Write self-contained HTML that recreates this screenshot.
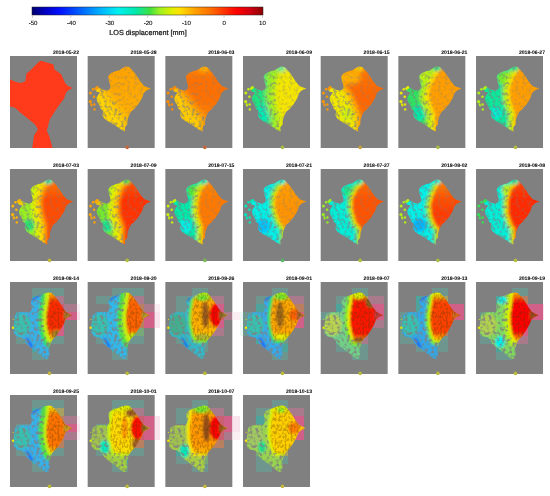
<!DOCTYPE html><html><head><meta charset="utf-8"><style>html,body{margin:0;padding:0;background:#fff;}svg{display:block;}#w{width:550px;height:496px;}text{font-family:"Liberation Sans",sans-serif;}.t{filter:url(#nop);text-rendering:geometricPrecision;}</style></head><body>
<div id="w"><svg width="550" height="496" viewBox="0 0 550 496">
<defs>
<linearGradient id="cb" x1="0" y1="0" x2="1" y2="0"><stop offset="0.000" stop-color="#00006e"/><stop offset="0.056" stop-color="#0000c0"/><stop offset="0.121" stop-color="#0010ff"/><stop offset="0.208" stop-color="#0060ff"/><stop offset="0.294" stop-color="#00b0ff"/><stop offset="0.372" stop-color="#00f0f0"/><stop offset="0.446" stop-color="#00e8b0"/><stop offset="0.511" stop-color="#40e040"/><stop offset="0.554" stop-color="#a0f020"/><stop offset="0.606" stop-color="#e0f000"/><stop offset="0.641" stop-color="#ffe000"/><stop offset="0.706" stop-color="#ffa000"/><stop offset="0.771" stop-color="#ff7000"/><stop offset="0.835" stop-color="#ff3000"/><stop offset="0.887" stop-color="#ff0000"/><stop offset="0.944" stop-color="#d00010"/><stop offset="1.000" stop-color="#8a0000"/></linearGradient>
<clipPath id="ic"><path d="M38.2,10.4 L41.6,10.9 L44.9,14.4 L48.2,18.5 L52.3,25.0 L55.9,29.4 L58.6,31.0 L63.3,32.4 L58.6,34.5 L56.0,37.3 L54.2,42.6 L50.5,48.2 L46.8,52.8 L43.2,55.8 L41.4,59.3 L39.8,63.9 L39.6,68.6 L37.2,71.6 L37.6,75.4 L34.2,74.0 L29.9,71.0 L25.3,68.0 L20.4,65.2 L16.6,62.4 L14.8,59.3 L15.6,55.0 L12.8,52.4 L11.6,48.4 L9.6,45.6 L8.8,41.7 L10.8,38.6 L12.4,36.6 L9.0,35.8 L7.2,33.6 L11.2,31.4 L15.1,33.8 L18.8,34.6 L22.0,33.6 L22.8,29.6 L21.0,24.1 L20.6,20.2 L23.0,17.2 L27.8,15.2 L31.6,14.2 L35.2,12.0Z"/></clipPath>
<clipPath id="ic2"><path d="M38.4,10.4 L41.8,11.0 L45.0,14.4 L48.5,18.8 L52.5,25.5 L55.5,29.5 L58.5,31.2 L62.5,33.2 L58.5,35.0 L55.5,37.6 L53.2,43.0 L50.0,48.5 L46.5,53.5 L42.5,57.5 L40.5,61.5 L39.0,66.5 L39.5,72.0 L38.5,76.5 L35.5,77.0 L30.0,72.5 L25.0,68.5 L20.0,65.0 L16.2,61.5 L15.0,58.5 L12.0,55.5 L7.0,54.5 L4.0,52.0 L3.5,45.0 L4.5,38.0 L5.0,33.0 L9.0,30.5 L15.0,30.0 L20.0,30.5 L22.0,27.0 L21.0,22.0 L21.0,17.5 L24.5,15.0 L29.0,13.5 L34.0,11.4Z"/></clipPath>
<filter id="b1_0" x="-10%" y="-10%" width="120%" height="120%"><feGaussianBlur stdDeviation="1.0"/></filter>
<filter id="b1_4" x="-10%" y="-10%" width="120%" height="120%"><feGaussianBlur stdDeviation="1.4"/></filter>
<filter id="b1_6" x="-10%" y="-10%" width="120%" height="120%"><feGaussianBlur stdDeviation="1.6"/></filter>
<filter id="b1_7" x="-10%" y="-10%" width="120%" height="120%"><feGaussianBlur stdDeviation="1.7"/></filter>
<filter id="b1_8" x="-10%" y="-10%" width="120%" height="120%"><feGaussianBlur stdDeviation="1.8"/></filter>
<filter id="b2_0" x="-10%" y="-10%" width="120%" height="120%"><feGaussianBlur stdDeviation="2.0"/></filter>
<filter id="b2_2" x="-10%" y="-10%" width="120%" height="120%"><feGaussianBlur stdDeviation="2.2"/></filter>
<filter id="b2_5" x="-10%" y="-10%" width="120%" height="120%"><feGaussianBlur stdDeviation="2.5"/></filter>
<filter id="soft" x="-5%" y="-5%" width="110%" height="110%"><feGaussianBlur stdDeviation="0.35"/></filter>
<filter id="speck" x="-10%" y="-10%" width="120%" height="120%" color-interpolation-filters="sRGB"><feTurbulence type="fractalNoise" baseFrequency="0.3" numOctaves="2" seed="5"/><feColorMatrix type="matrix" values="0 0 0 0 0.502  0 0 0 0 0.502  0 0 0 0 0.502  4 0 0 0 -1.9"/><feComposite in2="SourceGraphic" operator="in"/></filter>
<filter id="speck2" x="-10%" y="-10%" width="120%" height="120%" color-interpolation-filters="sRGB"><feTurbulence type="fractalNoise" baseFrequency="0.5 0.3" numOctaves="2" seed="11"/><feColorMatrix type="matrix" values="0 0 0 0 0.3  0 0 0 0 0.22  0 0 0 0 0.05  4 0 0 0 -1.7"/><feComposite in2="SourceGraphic" operator="in"/></filter>
<filter id="nop" x="-5%" y="-20%" width="110%" height="140%"><feOffset dx="0" dy="0"/></filter>
<g id="holes"><circle cx="19.7" cy="34.9" r="0.74"/><circle cx="25.7" cy="29.7" r="0.65"/><circle cx="11.3" cy="32.2" r="0.64"/><circle cx="16.4" cy="56.9" r="0.88"/><circle cx="28.0" cy="46.2" r="0.89"/><circle cx="18.6" cy="34.6" r="0.50"/><circle cx="30.1" cy="45.1" r="0.70"/><circle cx="15.8" cy="59.3" r="0.64"/><circle cx="19.4" cy="54.9" r="0.65"/><circle cx="32.1" cy="39.2" r="0.71"/><circle cx="26.3" cy="68.3" r="0.78"/><circle cx="12.9" cy="47.2" r="0.79"/><circle cx="14.0" cy="50.5" r="0.47"/><circle cx="31.1" cy="63.2" r="0.71"/><circle cx="31.9" cy="55.3" r="0.71"/><circle cx="24.1" cy="66.6" r="0.88"/><circle cx="24.6" cy="58.6" r="0.48"/><circle cx="32.1" cy="57.8" r="0.90"/><circle cx="21.7" cy="58.8" r="0.46"/><circle cx="24.2" cy="35.7" r="0.50"/><circle cx="13.3" cy="39.4" r="0.63"/><circle cx="23.8" cy="53.3" r="0.85"/><circle cx="36.0" cy="67.7" r="0.58"/><circle cx="22.7" cy="44.5" r="0.85"/><circle cx="14.8" cy="38.7" r="0.56"/><circle cx="25.0" cy="55.1" r="0.57"/><circle cx="21.2" cy="54.1" r="0.88"/><circle cx="31.8" cy="51.7" r="0.73"/><circle cx="31.3" cy="30.5" r="0.85"/><circle cx="34.7" cy="68.2" r="0.81"/><circle cx="21.9" cy="46.4" r="0.50"/><circle cx="29.9" cy="30.9" r="0.48"/><circle cx="15.9" cy="35.5" r="0.60"/><circle cx="37.9" cy="56.2" r="0.52"/><circle cx="17.3" cy="44.0" r="0.61"/><circle cx="25.0" cy="32.0" r="0.50"/><circle cx="20.3" cy="40.2" r="0.82"/><circle cx="13.8" cy="53.0" r="0.46"/></g>
<linearGradient id="e1" gradientUnits="userSpaceOnUse" x1="0" y1="0" x2="0" y2="92"><stop offset="0.109" stop-color="#ffa300"/><stop offset="0.652" stop-color="#ffae00"/></linearGradient>
<linearGradient id="e2" gradientUnits="userSpaceOnUse" x1="0" y1="0" x2="0" y2="92"><stop offset="0.109" stop-color="#ff8600"/><stop offset="0.272" stop-color="#ff6e00"/><stop offset="0.489" stop-color="#ff7100"/><stop offset="0.652" stop-color="#ff8000"/></linearGradient>
<linearGradient id="e3" gradientUnits="userSpaceOnUse" x1="0" y1="0" x2="0" y2="92"><stop offset="0.109" stop-color="#f1e700"/><stop offset="0.652" stop-color="#f8e400"/></linearGradient>
<linearGradient id="e4" gradientUnits="userSpaceOnUse" x1="0" y1="0" x2="0" y2="92"><stop offset="0.109" stop-color="#ff7900"/><stop offset="0.435" stop-color="#ff6400"/><stop offset="0.652" stop-color="#ff6c00"/></linearGradient>
<linearGradient id="e5" gradientUnits="userSpaceOnUse" x1="0" y1="0" x2="0" y2="92"><stop offset="0.109" stop-color="#ff9e00"/><stop offset="0.652" stop-color="#ff9e00"/></linearGradient>
<linearGradient id="e6" gradientUnits="userSpaceOnUse" x1="0" y1="0" x2="0" y2="92"><stop offset="0.109" stop-color="#ff9e00"/><stop offset="0.652" stop-color="#ff9e00"/></linearGradient>
<linearGradient id="e7" gradientUnits="userSpaceOnUse" x1="0" y1="0" x2="0" y2="92"><stop offset="0.152" stop-color="#ff7300"/><stop offset="0.326" stop-color="#ff4b00"/><stop offset="0.652" stop-color="#ff4b00"/></linearGradient>
<linearGradient id="e8" gradientUnits="userSpaceOnUse" x1="0" y1="0" x2="0" y2="92"><stop offset="0.152" stop-color="#ff5300"/><stop offset="0.326" stop-color="#ff3200"/><stop offset="0.652" stop-color="#ff3200"/></linearGradient>
<linearGradient id="e9" gradientUnits="userSpaceOnUse" x1="0" y1="0" x2="0" y2="92"><stop offset="0.152" stop-color="#ff8600"/><stop offset="0.326" stop-color="#ff7900"/><stop offset="0.652" stop-color="#ff7900"/></linearGradient>
<linearGradient id="e10" gradientUnits="userSpaceOnUse" x1="0" y1="0" x2="0" y2="92"><stop offset="0.152" stop-color="#ff9e00"/><stop offset="0.435" stop-color="#ff9200"/><stop offset="0.652" stop-color="#ff9800"/></linearGradient>
<linearGradient id="e11" gradientUnits="userSpaceOnUse" x1="0" y1="0" x2="0" y2="92"><stop offset="0.152" stop-color="#ff6c00"/><stop offset="0.326" stop-color="#ff5300"/><stop offset="0.652" stop-color="#ff5300"/></linearGradient>
<linearGradient id="e12" gradientUnits="userSpaceOnUse" x1="0" y1="0" x2="0" y2="92"><stop offset="0.152" stop-color="#ff8000"/><stop offset="0.304" stop-color="#ff5300"/><stop offset="0.489" stop-color="#ff3a00"/><stop offset="0.652" stop-color="#ff4200"/></linearGradient>
<linearGradient id="e13" gradientUnits="userSpaceOnUse" x1="0" y1="0" x2="0" y2="92"><stop offset="0.152" stop-color="#ff4200"/><stop offset="0.326" stop-color="#ff2a00"/><stop offset="0.652" stop-color="#ff2a00"/></linearGradient>
<linearGradient id="e14" gradientUnits="userSpaceOnUse" x1="0" y1="0" x2="0" y2="92"><stop offset="0.130" stop-color="#ffb600"/><stop offset="0.217" stop-color="#ff2a00"/><stop offset="0.500" stop-color="#ff2a00"/><stop offset="0.609" stop-color="#ffb600"/></linearGradient>
<linearGradient id="e15" gradientUnits="userSpaceOnUse" x1="0" y1="0" x2="0" y2="92"><stop offset="0.130" stop-color="#ffa600"/><stop offset="0.217" stop-color="#ff6400"/><stop offset="0.522" stop-color="#ff6400"/><stop offset="0.630" stop-color="#f8e400"/></linearGradient>
<linearGradient id="e16" gradientUnits="userSpaceOnUse" x1="0" y1="0" x2="0" y2="92"><stop offset="0.130" stop-color="#b0f018"/><stop offset="0.217" stop-color="#ffa600"/><stop offset="0.543" stop-color="#ffb600"/><stop offset="0.630" stop-color="#d9f004"/></linearGradient>
<linearGradient id="e17" gradientUnits="userSpaceOnUse" x1="0" y1="0" x2="0" y2="92"><stop offset="0.130" stop-color="#b0f018"/><stop offset="0.217" stop-color="#ffa600"/><stop offset="0.543" stop-color="#ffa600"/><stop offset="0.630" stop-color="#d9f004"/></linearGradient>
<linearGradient id="e18" gradientUnits="userSpaceOnUse" x1="0" y1="0" x2="0" y2="92"><stop offset="0.130" stop-color="#d9f004"/><stop offset="0.217" stop-color="#ff1300"/><stop offset="0.565" stop-color="#ff1300"/><stop offset="0.630" stop-color="#ffa600"/></linearGradient>
<linearGradient id="e19" gradientUnits="userSpaceOnUse" x1="0" y1="0" x2="0" y2="92"><stop offset="0.130" stop-color="#e9eb00"/><stop offset="0.217" stop-color="#ff4200"/><stop offset="0.543" stop-color="#ff4200"/><stop offset="0.630" stop-color="#ffc700"/></linearGradient>
<linearGradient id="e20" gradientUnits="userSpaceOnUse" x1="0" y1="0" x2="0" y2="92"><stop offset="0.130" stop-color="#ffa600"/><stop offset="0.217" stop-color="#ff0300"/><stop offset="0.543" stop-color="#ff0300"/><stop offset="0.630" stop-color="#ffa600"/></linearGradient>
<linearGradient id="e21" gradientUnits="userSpaceOnUse" x1="0" y1="0" x2="0" y2="92"><stop offset="0.130" stop-color="#f8e400"/><stop offset="0.217" stop-color="#ff7300"/><stop offset="0.543" stop-color="#ff7300"/><stop offset="0.630" stop-color="#ffc700"/></linearGradient>
<linearGradient id="e22" gradientUnits="userSpaceOnUse" x1="0" y1="0" x2="0" y2="92"><stop offset="0.130" stop-color="#d9f004"/><stop offset="0.217" stop-color="#ffdf00"/><stop offset="0.543" stop-color="#ffd700"/><stop offset="0.630" stop-color="#f8e400"/></linearGradient>
<linearGradient id="e23" gradientUnits="userSpaceOnUse" x1="0" y1="0" x2="0" y2="92"><stop offset="0.130" stop-color="#97ef23"/><stop offset="0.217" stop-color="#ff9800"/><stop offset="0.543" stop-color="#ff9800"/><stop offset="0.630" stop-color="#ffb600"/></linearGradient>
<linearGradient id="e24" gradientUnits="userSpaceOnUse" x1="0" y1="0" x2="0" y2="92"><stop offset="0.130" stop-color="#e9eb00"/><stop offset="0.217" stop-color="#ffcf00"/><stop offset="0.543" stop-color="#ffcf00"/><stop offset="0.630" stop-color="#ffd700"/></linearGradient>
</defs>
<rect x="0" y="0" width="550" height="496" fill="#fff"/>
<rect x="32" y="7" width="231" height="8" fill="url(#cb)" stroke="#222" stroke-width="0.5"/>
<line x1="32.5" y1="15.5" x2="32.5" y2="17.8" stroke="#aaa" stroke-width="0.6"/>
<text class="t" x="33.1" y="24.9" font-size="6.1" text-anchor="middle" fill="#111" stroke="#111" stroke-width="0.12">-50</text>
<line x1="70.8" y1="15.5" x2="70.8" y2="17.8" stroke="#aaa" stroke-width="0.6"/>
<text class="t" x="71.4" y="24.9" font-size="6.1" text-anchor="middle" fill="#111" stroke="#111" stroke-width="0.12">-40</text>
<line x1="109.2" y1="15.5" x2="109.2" y2="17.8" stroke="#aaa" stroke-width="0.6"/>
<text class="t" x="109.8" y="24.9" font-size="6.1" text-anchor="middle" fill="#111" stroke="#111" stroke-width="0.12">-30</text>
<line x1="147.5" y1="15.5" x2="147.5" y2="17.8" stroke="#aaa" stroke-width="0.6"/>
<text class="t" x="148.1" y="24.9" font-size="6.1" text-anchor="middle" fill="#111" stroke="#111" stroke-width="0.12">-20</text>
<line x1="185.8" y1="15.5" x2="185.8" y2="17.8" stroke="#aaa" stroke-width="0.6"/>
<text class="t" x="186.4" y="24.9" font-size="6.1" text-anchor="middle" fill="#111" stroke="#111" stroke-width="0.12">-10</text>
<line x1="224.1" y1="15.5" x2="224.1" y2="17.8" stroke="#aaa" stroke-width="0.6"/>
<text class="t" x="224.1" y="24.9" font-size="6.1" text-anchor="middle" fill="#111" stroke="#111" stroke-width="0.12">0</text>
<line x1="262.5" y1="15.5" x2="262.5" y2="17.8" stroke="#aaa" stroke-width="0.6"/>
<text class="t" x="262.5" y="24.9" font-size="6.1" text-anchor="middle" fill="#111" stroke="#111" stroke-width="0.12">10</text>
<text class="t" x="148" y="34.5" font-size="7.25" text-anchor="middle" fill="#111" stroke="#111" stroke-width="0.22">LOS displacement [mm]</text>
<g transform="translate(10.00,56)">
<rect width="67" height="92" fill="#808080"/>
<path d="M30.9,4.8 L43.5,8.6 L44.5,13.5 L51.2,18.3 L55.1,27.0 L58.0,30.0 L62.8,31.9 L59.0,33.8 L56.0,36.7 L54.1,42.5 L48.3,50.3 L44.5,56.0 L39.6,63.8 L37.7,71.5 L36.7,74.5 L39.6,81.2 L42.5,92.0 L22.2,92.0 L24.1,79.3 L28.0,73.5 L25.1,68.6 L19.3,63.8 L9.6,56.0 L5.8,52.2 L0.0,50.3 L0.0,23.2 L5.8,26.1 L11.6,27.1 L15.4,25.1 L16.4,17.4 L20.3,14.5 L25.1,9.6 L29.0,5.8Z" fill="#ff3a1c" filter="url(#soft)"/>
<text class="t" x="69.0" y="-2.3" font-size="5.1" font-weight="bold" text-anchor="end" fill="#111" stroke="#111" stroke-width="0.08">2018-05-22</text>
</g>
<g transform="translate(87.67,56)">
<rect width="67" height="92" fill="#808080"/>
<g clip-path="url(#ic)"><g filter="url(#b2_5)">
<rect x="-5" y="-5" width="77" height="102" fill="#ffd400"/>
<ellipse cx="40" cy="12" rx="4" ry="3" fill="#ffb600"/>
<path d="M14.0,-5.0 L14.0,28.0 L22.0,38.0 L32.0,50.0 L42.0,64.0 L42.0,97.0" fill="none" stroke="#ffbf00" stroke-width="12.0" stroke-linejoin="round"/>
<path d="M14.0,-5.0 L14.0,28.0 L22.0,38.0 L32.0,50.0 L42.0,64.0 L42.0,97.0 L75.0,97.0 L75.0,-5.0Z" fill="url(#e1)"/>
</g>
<path d="M-5.0,-5.0 L12.5,-5.0 L12.5,28.0 L20.5,38.0 L30.5,50.0 L40.5,64.0 L40.5,97.0 L-5.0,97.0Z" fill="#000" filter="url(#speck)" opacity="0.6"/>
<path d="M14.0,-5.0 L14.0,28.0 L22.0,38.0 L32.0,50.0 L42.0,64.0 L42.0,97.0 L75.0,97.0 L75.0,-5.0Z" fill="#000" filter="url(#speck)" opacity="0.3"/>
</g>
<use href="#holes" fill="#808080" opacity="0.5"/>
<circle cx="2.8" cy="37.1" r="1.5" fill="#ff9800"/>
<circle cx="2.6" cy="45.6" r="1.6" fill="#ff9800"/>
<circle cx="6.8" cy="53.4" r="1.2" fill="#ff9800"/>
<circle cx="6.4" cy="40.7" r="1.3" fill="#ff9800"/>
<circle cx="6.6" cy="48.5" r="1.2" fill="#ff9800"/>
<circle cx="5.4" cy="33.2" r="1.2" fill="#ff9800"/>
<circle cx="4" cy="49.5" r="1" fill="#ff9800"/>
<circle cx="8.2" cy="32.6" r="1.4" fill="#ff9800"/>
<circle cx="3.6" cy="48.2" r="1" fill="#ff9800"/>
<circle cx="9.5" cy="31.5" r="1.4" fill="#ff9800"/>
<circle cx="39.5" cy="91.4" r="1.8" fill="#c6673a"/>
<text class="t" x="69.0" y="-2.3" font-size="5.1" font-weight="bold" text-anchor="end" fill="#111" stroke="#111" stroke-width="0.08">2018-05-28</text>
</g>
<g transform="translate(165.34,56)">
<rect width="67" height="92" fill="#808080"/>
<g clip-path="url(#ic)"><g filter="url(#b2_5)">
<rect x="-5" y="-5" width="77" height="102" fill="#ffcc00"/>
<path d="M16.0,-5.0 L16.0,30.0 L24.0,40.0 L33.0,52.0 L42.0,62.0 L42.0,97.0" fill="none" stroke="#ff9e00" stroke-width="12.0" stroke-linejoin="round"/>
<path d="M16.0,-5.0 L16.0,30.0 L24.0,40.0 L33.0,52.0 L42.0,62.0 L42.0,97.0 L75.0,97.0 L75.0,-5.0Z" fill="url(#e2)"/>
<ellipse cx="38.5" cy="12" rx="4.5" ry="3" fill="#ffc700"/>
</g>
<path d="M-5.0,-5.0 L14.5,-5.0 L14.5,30.0 L22.5,40.0 L31.5,52.0 L40.5,62.0 L40.5,97.0 L-5.0,97.0Z" fill="#000" filter="url(#speck)" opacity="0.6"/>
<path d="M16.0,-5.0 L16.0,30.0 L24.0,40.0 L33.0,52.0 L42.0,62.0 L42.0,97.0 L75.0,97.0 L75.0,-5.0Z" fill="#000" filter="url(#speck)" opacity="0.3"/>
</g>
<use href="#holes" fill="#808080" opacity="0.5"/>
<circle cx="2.8" cy="37.1" r="1.5" fill="#ff8c00"/>
<circle cx="2.6" cy="45.6" r="1.6" fill="#ff8c00"/>
<circle cx="6.8" cy="53.4" r="1.2" fill="#ff8c00"/>
<circle cx="6.4" cy="40.7" r="1.3" fill="#ff8c00"/>
<circle cx="6.6" cy="48.5" r="1.2" fill="#ff8c00"/>
<circle cx="5.4" cy="33.2" r="1.2" fill="#ff8c00"/>
<circle cx="4" cy="49.5" r="1" fill="#ff8c00"/>
<circle cx="8.2" cy="32.6" r="1.4" fill="#ff8c00"/>
<circle cx="3.6" cy="48.2" r="1" fill="#ff8c00"/>
<circle cx="9.5" cy="31.5" r="1.4" fill="#ff8c00"/>
<circle cx="39.5" cy="91.4" r="1.8" fill="#c6673a"/>
<text class="t" x="69.0" y="-2.3" font-size="5.1" font-weight="bold" text-anchor="end" fill="#111" stroke="#111" stroke-width="0.08">2018-06-03</text>
</g>
<g transform="translate(243.01,56)">
<rect width="67" height="92" fill="#808080"/>
<g clip-path="url(#ic)"><g filter="url(#b2_0)">
<rect x="-5" y="-5" width="77" height="102" fill="#1de47e"/>
<ellipse cx="21" cy="57" rx="8" ry="9" fill="#00e8b4"/>
<ellipse cx="28" cy="21" rx="6" ry="6" fill="#97ef23"/>
<path d="M38.5,-5.0 L38.5,14.0 L35.0,28.0 L33.5,37.0 L35.0,50.0 L38.5,59.3 L38.5,97.0" fill="none" stroke="#97ef23" stroke-width="22.0" stroke-linejoin="round"/>
<path d="M38.5,-5.0 L38.5,14.0 L35.0,28.0 L33.5,37.0 L35.0,50.0 L38.5,59.3 L38.5,97.0" fill="none" stroke="#cef009" stroke-width="8.0" stroke-linejoin="round"/>
<path d="M38.5,-5.0 L38.5,14.0 L35.0,28.0 L33.5,37.0 L35.0,50.0 L38.5,59.3 L38.5,97.0 L75.0,97.0 L75.0,-5.0Z" fill="url(#e3)"/>
<ellipse cx="38.5" cy="12" rx="4.5" ry="3" fill="#04e8a9"/>
</g>
<path d="M-5.0,-5.0 L37.0,-5.0 L37.0,14.0 L33.5,28.0 L32.0,37.0 L33.5,50.0 L37.0,59.3 L37.0,97.0 L-5.0,97.0Z" fill="#000" filter="url(#speck)" opacity="0.6"/>
<path d="M38.5,-5.0 L38.5,14.0 L35.0,28.0 L33.5,37.0 L35.0,50.0 L38.5,59.3 L38.5,97.0 L75.0,97.0 L75.0,-5.0Z" fill="#000" filter="url(#speck)" opacity="0.3"/>
</g>
<use href="#holes" fill="#808080" opacity="0.5"/>
<circle cx="2.8" cy="37.1" r="1.5" fill="#c4f00e"/>
<circle cx="2.6" cy="45.6" r="1.6" fill="#c4f00e"/>
<circle cx="6.8" cy="53.4" r="1.2" fill="#c4f00e"/>
<circle cx="6.4" cy="40.7" r="1.3" fill="#c4f00e"/>
<circle cx="6.6" cy="48.5" r="1.2" fill="#c4f00e"/>
<circle cx="5.4" cy="33.2" r="1.2" fill="#c4f00e"/>
<circle cx="4" cy="49.5" r="1" fill="#c4f00e"/>
<circle cx="8.2" cy="32.6" r="1.4" fill="#c4f00e"/>
<circle cx="3.6" cy="48.2" r="1" fill="#c4f00e"/>
<circle cx="9.5" cy="31.5" r="1.4" fill="#c4f00e"/>
<circle cx="39.5" cy="91.4" r="1.8" fill="#a5be41"/>
<text class="t" x="69.0" y="-2.3" font-size="5.1" font-weight="bold" text-anchor="end" fill="#111" stroke="#111" stroke-width="0.08">2018-06-09</text>
</g>
<g transform="translate(320.68,56)">
<rect width="67" height="92" fill="#808080"/>
<g clip-path="url(#ic)"><g filter="url(#b2_2)">
<rect x="-5" y="-5" width="77" height="102" fill="#f1e700"/>
<ellipse cx="26" cy="58" rx="6" ry="7" fill="#cef009"/>
<path d="M22.0,-5.0 L22.0,26.0 L31.0,38.0 L36.0,50.0 L40.0,61.0 L40.0,97.0" fill="none" stroke="#ffb600" stroke-width="10.0" stroke-linejoin="round"/>
<path d="M22.0,-5.0 L22.0,26.0 L31.0,38.0 L36.0,50.0 L40.0,61.0 L40.0,97.0 L75.0,97.0 L75.0,-5.0Z" fill="url(#e4)"/>
<ellipse cx="38.5" cy="12" rx="4.5" ry="3" fill="#f8e400"/>
<ellipse cx="30" cy="21" rx="10" ry="7" fill="#ffae00"/>
</g>
<path d="M-5.0,-5.0 L20.5,-5.0 L20.5,26.0 L29.5,38.0 L34.5,50.0 L38.5,61.0 L38.5,97.0 L-5.0,97.0Z" fill="#000" filter="url(#speck)" opacity="0.6"/>
<path d="M22.0,-5.0 L22.0,26.0 L31.0,38.0 L36.0,50.0 L40.0,61.0 L40.0,97.0 L75.0,97.0 L75.0,-5.0Z" fill="#000" filter="url(#speck)" opacity="0.3"/>
</g>
<use href="#holes" fill="#808080" opacity="0.5"/>
<circle cx="2.8" cy="37.1" r="1.5" fill="#ff9800"/>
<circle cx="2.6" cy="45.6" r="1.6" fill="#ff9800"/>
<circle cx="6.8" cy="53.4" r="1.2" fill="#ff9800"/>
<circle cx="6.4" cy="40.7" r="1.3" fill="#ff9800"/>
<circle cx="6.6" cy="48.5" r="1.2" fill="#ff9800"/>
<circle cx="5.4" cy="33.2" r="1.2" fill="#ff9800"/>
<circle cx="4" cy="49.5" r="1" fill="#ff9800"/>
<circle cx="8.2" cy="32.6" r="1.4" fill="#ff9800"/>
<circle cx="3.6" cy="48.2" r="1" fill="#ff9800"/>
<circle cx="9.5" cy="31.5" r="1.4" fill="#ff9800"/>
<circle cx="39.5" cy="91.4" r="1.8" fill="#c69e3a"/>
<text class="t" x="69.0" y="-2.3" font-size="5.1" font-weight="bold" text-anchor="end" fill="#111" stroke="#111" stroke-width="0.08">2018-06-15</text>
</g>
<g transform="translate(398.35,56)">
<rect width="67" height="92" fill="#808080"/>
<g clip-path="url(#ic)"><g filter="url(#b1_8)">
<rect x="-5" y="-5" width="77" height="102" fill="#2de261"/>
<ellipse cx="28" cy="21" rx="7" ry="7" fill="#c4f00e"/>
<ellipse cx="21" cy="57" rx="7" ry="8" fill="#04e8a9"/>
<path d="M41.3,-5.0 L41.3,13.9 L32.1,29.6 L30.2,40.8 L36.7,59.3 L36.7,97.0" fill="none" stroke="#b0f018" stroke-width="18.0" stroke-linejoin="round"/>
<path d="M41.3,-5.0 L41.3,13.9 L32.1,29.6 L30.2,40.8 L36.7,59.3 L36.7,97.0" fill="none" stroke="#f8e400" stroke-width="8.0" stroke-linejoin="round"/>
<path d="M41.3,-5.0 L41.3,13.9 L32.1,29.6 L30.2,40.8 L36.7,59.3 L36.7,97.0 L75.0,97.0 L75.0,-5.0Z" fill="url(#e5)"/>
<ellipse cx="38.5" cy="12" rx="4.5" ry="3" fill="#14e58c"/>
</g>
<path d="M-5.0,-5.0 L39.8,-5.0 L39.8,13.9 L30.6,29.6 L28.7,40.8 L35.2,59.3 L35.2,97.0 L-5.0,97.0Z" fill="#000" filter="url(#speck)" opacity="0.6"/>
<path d="M41.3,-5.0 L41.3,13.9 L32.1,29.6 L30.2,40.8 L36.7,59.3 L36.7,97.0 L75.0,97.0 L75.0,-5.0Z" fill="#000" filter="url(#speck)" opacity="0.3"/>
</g>
<use href="#holes" fill="#808080" opacity="0.5"/>
<circle cx="2.8" cy="37.1" r="1.5" fill="#e9eb00"/>
<circle cx="2.6" cy="45.6" r="1.6" fill="#e9eb00"/>
<circle cx="6.8" cy="53.4" r="1.2" fill="#e9eb00"/>
<circle cx="6.4" cy="40.7" r="1.3" fill="#e9eb00"/>
<circle cx="6.6" cy="48.5" r="1.2" fill="#e9eb00"/>
<circle cx="5.4" cy="33.2" r="1.2" fill="#e9eb00"/>
<circle cx="4" cy="49.5" r="1" fill="#e9eb00"/>
<circle cx="8.2" cy="32.6" r="1.4" fill="#e9eb00"/>
<circle cx="3.6" cy="48.2" r="1" fill="#e9eb00"/>
<circle cx="9.5" cy="31.5" r="1.4" fill="#e9eb00"/>
<circle cx="39.5" cy="91.4" r="1.8" fill="#a5be41"/>
<text class="t" x="69.0" y="-2.3" font-size="5.1" font-weight="bold" text-anchor="end" fill="#111" stroke="#111" stroke-width="0.08">2018-06-21</text>
</g>
<g transform="translate(476.02,56)">
<rect width="67" height="92" fill="#808080"/>
<g clip-path="url(#ic)"><g filter="url(#b1_7)">
<rect x="-5" y="-5" width="77" height="102" fill="#0ce69b"/>
<ellipse cx="28" cy="22" rx="7" ry="7" fill="#72e82f"/>
<ellipse cx="20" cy="57" rx="6" ry="6" fill="#00ecd1"/>
<path d="M42.6,-5.0 L42.6,13.9 L37.0,22.2 L33.4,33.4 L34.3,44.5 L38.9,57.4 L38.9,97.0" fill="none" stroke="#b0f018" stroke-width="14.0" stroke-linejoin="round"/>
<path d="M42.6,-5.0 L42.6,13.9 L37.0,22.2 L33.4,33.4 L34.3,44.5 L38.9,57.4 L38.9,97.0" fill="none" stroke="#f1e700" stroke-width="6.0" stroke-linejoin="round"/>
<path d="M42.6,-5.0 L42.6,13.9 L37.0,22.2 L33.4,33.4 L34.3,44.5 L38.9,57.4 L38.9,97.0 L75.0,97.0 L75.0,-5.0Z" fill="url(#e6)"/>
<ellipse cx="38.5" cy="12" rx="4.5" ry="3" fill="#14e58c"/>
</g>
<path d="M-5.0,-5.0 L41.1,-5.0 L41.1,13.9 L35.5,22.2 L31.9,33.4 L32.8,44.5 L37.4,57.4 L37.4,97.0 L-5.0,97.0Z" fill="#000" filter="url(#speck)" opacity="0.6"/>
<path d="M42.6,-5.0 L42.6,13.9 L37.0,22.2 L33.4,33.4 L34.3,44.5 L38.9,57.4 L38.9,97.0 L75.0,97.0 L75.0,-5.0Z" fill="#000" filter="url(#speck)" opacity="0.3"/>
</g>
<use href="#holes" fill="#808080" opacity="0.5"/>
<circle cx="2.8" cy="37.1" r="1.5" fill="#b0f018"/>
<circle cx="2.6" cy="45.6" r="1.6" fill="#b0f018"/>
<circle cx="6.8" cy="53.4" r="1.2" fill="#b0f018"/>
<circle cx="6.4" cy="40.7" r="1.3" fill="#b0f018"/>
<circle cx="6.6" cy="48.5" r="1.2" fill="#b0f018"/>
<circle cx="5.4" cy="33.2" r="1.2" fill="#b0f018"/>
<circle cx="4" cy="49.5" r="1" fill="#b0f018"/>
<circle cx="8.2" cy="32.6" r="1.4" fill="#b0f018"/>
<circle cx="3.6" cy="48.2" r="1" fill="#b0f018"/>
<circle cx="9.5" cy="31.5" r="1.4" fill="#b0f018"/>
<circle cx="39.5" cy="91.4" r="1.8" fill="#b1be3c"/>
<text class="t" x="69.0" y="-2.3" font-size="5.1" font-weight="bold" text-anchor="end" fill="#111" stroke="#111" stroke-width="0.08">2018-06-27</text>
</g>
<g transform="translate(10.00,169)">
<rect width="67" height="92" fill="#808080"/>
<g clip-path="url(#ic)"><g filter="url(#b1_6)">
<rect x="-5" y="-5" width="77" height="102" fill="#97ef23"/>
<ellipse cx="19" cy="56" rx="6" ry="6" fill="#25e370"/>
<ellipse cx="11" cy="34" rx="4" ry="2.5" fill="#ffc700"/>
<ellipse cx="27" cy="19" rx="6" ry="5" fill="#c4f00e"/>
<path d="M42.6,-5.0 L42.6,13.0 L36.1,20.4 L32.4,31.5 L33.4,42.6 L37.0,55.6 L37.0,97.0" fill="none" stroke="#d9f004" stroke-width="24.0" stroke-linejoin="round"/>
<path d="M42.6,-5.0 L42.6,13.0 L36.1,20.4 L32.4,31.5 L33.4,42.6 L37.0,55.6 L37.0,97.0" fill="none" stroke="#ffd700" stroke-width="14.0" stroke-linejoin="round"/>
<path d="M42.6,-5.0 L42.6,13.0 L36.1,20.4 L32.4,31.5 L33.4,42.6 L37.0,55.6 L37.0,97.0" fill="none" stroke="#ff8c00" stroke-width="6.0" stroke-linejoin="round"/>
<path d="M42.6,-5.0 L42.6,13.0 L36.1,20.4 L32.4,31.5 L33.4,42.6 L37.0,55.6 L37.0,97.0 L75.0,97.0 L75.0,-5.0Z" fill="url(#e7)"/>
<ellipse cx="38.5" cy="12" rx="4.5" ry="3" fill="#04e8a9"/>
</g>
<path d="M-5.0,-5.0 L41.1,-5.0 L41.1,13.0 L34.6,20.4 L30.9,31.5 L31.9,42.6 L35.5,55.6 L35.5,97.0 L-5.0,97.0Z" fill="#000" filter="url(#speck)" opacity="0.6"/>
<path d="M42.6,-5.0 L42.6,13.0 L36.1,20.4 L32.4,31.5 L33.4,42.6 L37.0,55.6 L37.0,97.0 L75.0,97.0 L75.0,-5.0Z" fill="#000" filter="url(#speck)" opacity="0.3"/>
</g>
<use href="#holes" fill="#808080" opacity="0.5"/>
<circle cx="2.8" cy="37.1" r="1.5" fill="#ffb600"/>
<circle cx="2.6" cy="45.6" r="1.6" fill="#ffb600"/>
<circle cx="6.8" cy="53.4" r="1.2" fill="#ffb600"/>
<circle cx="6.4" cy="40.7" r="1.3" fill="#ffb600"/>
<circle cx="6.6" cy="48.5" r="1.2" fill="#ffb600"/>
<circle cx="5.4" cy="33.2" r="1.2" fill="#ffb600"/>
<circle cx="4" cy="49.5" r="1" fill="#ffb600"/>
<circle cx="8.2" cy="32.6" r="1.4" fill="#ffb600"/>
<circle cx="3.6" cy="48.2" r="1" fill="#ffb600"/>
<circle cx="9.5" cy="31.5" r="1.4" fill="#ffb600"/>
<circle cx="39.5" cy="91.4" r="1.8" fill="#c2b73a"/>
<text class="t" x="69.0" y="-2.3" font-size="5.1" font-weight="bold" text-anchor="end" fill="#111" stroke="#111" stroke-width="0.08">2018-07-03</text>
</g>
<g transform="translate(87.67,169)">
<rect width="67" height="92" fill="#808080"/>
<g clip-path="url(#ic)"><g filter="url(#b1_6)">
<rect x="-5" y="-5" width="77" height="102" fill="#72e82f"/>
<ellipse cx="19" cy="57" rx="7" ry="6" fill="#14e58c"/>
<ellipse cx="11" cy="34" rx="4" ry="2.5" fill="#ffb600"/>
<ellipse cx="27" cy="19" rx="6" ry="5" fill="#c4f00e"/>
<path d="M42.0,-5.0 L42.0,13.9 L36.4,20.4 L32.7,31.5 L32.7,44.5 L37.3,57.4 L37.3,97.0" fill="none" stroke="#d9f004" stroke-width="24.0" stroke-linejoin="round"/>
<path d="M42.0,-5.0 L42.0,13.9 L36.4,20.4 L32.7,31.5 L32.7,44.5 L37.3,57.4 L37.3,97.0" fill="none" stroke="#ffd700" stroke-width="14.0" stroke-linejoin="round"/>
<path d="M42.0,-5.0 L42.0,13.9 L36.4,20.4 L32.7,31.5 L32.7,44.5 L37.3,57.4 L37.3,97.0" fill="none" stroke="#ff8000" stroke-width="6.0" stroke-linejoin="round"/>
<path d="M42.0,-5.0 L42.0,13.9 L36.4,20.4 L32.7,31.5 L32.7,44.5 L37.3,57.4 L37.3,97.0 L75.0,97.0 L75.0,-5.0Z" fill="url(#e8)"/>
<ellipse cx="38.5" cy="12" rx="4.5" ry="3" fill="#35e153"/>
</g>
<path d="M-5.0,-5.0 L40.5,-5.0 L40.5,13.9 L34.9,20.4 L31.2,31.5 L31.2,44.5 L35.8,57.4 L35.8,97.0 L-5.0,97.0Z" fill="#000" filter="url(#speck)" opacity="0.6"/>
<path d="M42.0,-5.0 L42.0,13.9 L36.4,20.4 L32.7,31.5 L32.7,44.5 L37.3,57.4 L37.3,97.0 L75.0,97.0 L75.0,-5.0Z" fill="#000" filter="url(#speck)" opacity="0.3"/>
</g>
<use href="#holes" fill="#808080" opacity="0.5"/>
<circle cx="2.8" cy="37.1" r="1.5" fill="#ffa600"/>
<circle cx="2.6" cy="45.6" r="1.6" fill="#ffa600"/>
<circle cx="6.8" cy="53.4" r="1.2" fill="#ffa600"/>
<circle cx="6.4" cy="40.7" r="1.3" fill="#ffa600"/>
<circle cx="6.6" cy="48.5" r="1.2" fill="#ffa600"/>
<circle cx="5.4" cy="33.2" r="1.2" fill="#ffa600"/>
<circle cx="4" cy="49.5" r="1" fill="#ffa600"/>
<circle cx="8.2" cy="32.6" r="1.4" fill="#ffa600"/>
<circle cx="3.6" cy="48.2" r="1" fill="#ffa600"/>
<circle cx="9.5" cy="31.5" r="1.4" fill="#ffa600"/>
<circle cx="39.5" cy="91.4" r="1.8" fill="#b1be3c"/>
<text class="t" x="69.0" y="-2.3" font-size="5.1" font-weight="bold" text-anchor="end" fill="#111" stroke="#111" stroke-width="0.08">2018-07-09</text>
</g>
<g transform="translate(165.34,169)">
<rect width="67" height="92" fill="#808080"/>
<g clip-path="url(#ic)"><g filter="url(#b1_6)">
<rect x="-5" y="-5" width="77" height="102" fill="#04e8a9"/>
<ellipse cx="20" cy="57" rx="7" ry="7" fill="#00efe6"/>
<ellipse cx="28" cy="22" rx="6" ry="6" fill="#4de23c"/>
<path d="M42.3,-5.0 L42.3,13.9 L35.8,22.2 L33.0,33.4 L33.0,44.5 L37.6,57.4 L37.6,97.0" fill="none" stroke="#c4f00e" stroke-width="12.0" stroke-linejoin="round"/>
<path d="M42.3,-5.0 L42.3,13.9 L35.8,22.2 L33.0,33.4 L33.0,44.5 L37.6,57.4 L37.6,97.0" fill="none" stroke="#ffc700" stroke-width="4.0" stroke-linejoin="round"/>
<path d="M42.3,-5.0 L42.3,13.9 L35.8,22.2 L33.0,33.4 L33.0,44.5 L37.6,57.4 L37.6,97.0 L75.0,97.0 L75.0,-5.0Z" fill="url(#e9)"/>
<ellipse cx="38.5" cy="12" rx="4.5" ry="3" fill="#00e9bb"/>
</g>
<path d="M-5.0,-5.0 L40.8,-5.0 L40.8,13.9 L34.3,22.2 L31.5,33.4 L31.5,44.5 L36.1,57.4 L36.1,97.0 L-5.0,97.0Z" fill="#000" filter="url(#speck)" opacity="0.6"/>
<path d="M42.3,-5.0 L42.3,13.9 L35.8,22.2 L33.0,33.4 L33.0,44.5 L37.6,57.4 L37.6,97.0 L75.0,97.0 L75.0,-5.0Z" fill="#000" filter="url(#speck)" opacity="0.3"/>
</g>
<use href="#holes" fill="#808080" opacity="0.5"/>
<circle cx="2.8" cy="37.1" r="1.5" fill="#c4f00e"/>
<circle cx="2.6" cy="45.6" r="1.6" fill="#c4f00e"/>
<circle cx="6.8" cy="53.4" r="1.2" fill="#c4f00e"/>
<circle cx="6.4" cy="40.7" r="1.3" fill="#c4f00e"/>
<circle cx="6.6" cy="48.5" r="1.2" fill="#c4f00e"/>
<circle cx="5.4" cy="33.2" r="1.2" fill="#c4f00e"/>
<circle cx="4" cy="49.5" r="1" fill="#c4f00e"/>
<circle cx="8.2" cy="32.6" r="1.4" fill="#c4f00e"/>
<circle cx="3.6" cy="48.2" r="1" fill="#c4f00e"/>
<circle cx="9.5" cy="31.5" r="1.4" fill="#c4f00e"/>
<circle cx="39.5" cy="91.4" r="1.8" fill="#78b953"/>
<text class="t" x="69.0" y="-2.3" font-size="5.1" font-weight="bold" text-anchor="end" fill="#111" stroke="#111" stroke-width="0.08">2018-07-15</text>
</g>
<g transform="translate(243.01,169)">
<rect width="67" height="92" fill="#808080"/>
<g clip-path="url(#ic)"><g filter="url(#b1_4)">
<rect x="-5" y="-5" width="77" height="102" fill="#00efe6"/>
<ellipse cx="20" cy="57" rx="7" ry="7" fill="#00c3fb"/>
<path d="M42.6,-5.0 L42.6,13.9 L37.0,18.5 L32.4,25.9 L31.5,35.2 L33.4,44.5 L37.0,53.7 L41.7,59.3 L41.7,97.0" fill="none" stroke="#72e82f" stroke-width="10.0" stroke-linejoin="round"/>
<path d="M42.6,-5.0 L42.6,13.9 L37.0,18.5 L32.4,25.9 L31.5,35.2 L33.4,44.5 L37.0,53.7 L41.7,59.3 L41.7,97.0" fill="none" stroke="#e9eb00" stroke-width="4.0" stroke-linejoin="round"/>
<path d="M42.6,-5.0 L42.6,13.9 L37.0,18.5 L32.4,25.9 L31.5,35.2 L33.4,44.5 L37.0,53.7 L41.7,59.3 L41.7,97.0 L75.0,97.0 L75.0,-5.0Z" fill="url(#e10)"/>
<ellipse cx="38.5" cy="12" rx="4.5" ry="3" fill="#00edd8"/>
</g>
<path d="M-5.0,-5.0 L41.1,-5.0 L41.1,13.9 L35.5,18.5 L30.9,25.9 L30.0,35.2 L31.9,44.5 L35.5,53.7 L40.2,59.3 L40.2,97.0 L-5.0,97.0Z" fill="#000" filter="url(#speck)" opacity="0.6"/>
<path d="M42.6,-5.0 L42.6,13.9 L37.0,18.5 L32.4,25.9 L31.5,35.2 L33.4,44.5 L37.0,53.7 L41.7,59.3 L41.7,97.0 L75.0,97.0 L75.0,-5.0Z" fill="#000" filter="url(#speck)" opacity="0.3"/>
</g>
<use href="#holes" fill="#808080" opacity="0.5"/>
<circle cx="2.8" cy="37.1" r="1.5" fill="#00e9bb"/>
<circle cx="2.6" cy="45.6" r="1.6" fill="#00e9bb"/>
<circle cx="6.8" cy="53.4" r="1.2" fill="#00e9bb"/>
<circle cx="6.4" cy="40.7" r="1.3" fill="#00e9bb"/>
<circle cx="6.6" cy="48.5" r="1.2" fill="#00e9bb"/>
<circle cx="5.4" cy="33.2" r="1.2" fill="#00e9bb"/>
<circle cx="4" cy="49.5" r="1" fill="#00e9bb"/>
<circle cx="8.2" cy="32.6" r="1.4" fill="#00e9bb"/>
<circle cx="3.6" cy="48.2" r="1" fill="#00e9bb"/>
<circle cx="9.5" cy="31.5" r="1.4" fill="#00e9bb"/>
<circle cx="39.5" cy="91.4" r="1.8" fill="#57b567"/>
<text class="t" x="69.0" y="-2.3" font-size="5.1" font-weight="bold" text-anchor="end" fill="#111" stroke="#111" stroke-width="0.08">2018-07-21</text>
</g>
<g transform="translate(320.68,169)">
<rect width="67" height="92" fill="#808080"/>
<g clip-path="url(#ic)"><g filter="url(#b1_4)">
<rect x="-5" y="-5" width="77" height="102" fill="#00edd8"/>
<ellipse cx="28" cy="22" rx="6" ry="6" fill="#14e58c"/>
<path d="M42.9,-5.0 L42.9,13.9 L36.4,20.4 L31.8,29.6 L31.8,40.8 L35.5,53.7 L40.2,59.3 L40.2,97.0" fill="none" stroke="#72e82f" stroke-width="10.0" stroke-linejoin="round"/>
<path d="M42.9,-5.0 L42.9,13.9 L36.4,20.4 L31.8,29.6 L31.8,40.8 L35.5,53.7 L40.2,59.3 L40.2,97.0" fill="none" stroke="#f8e400" stroke-width="4.0" stroke-linejoin="round"/>
<path d="M42.9,-5.0 L42.9,13.9 L36.4,20.4 L31.8,29.6 L31.8,40.8 L35.5,53.7 L40.2,59.3 L40.2,97.0 L75.0,97.0 L75.0,-5.0Z" fill="url(#e11)"/>
<ellipse cx="38.5" cy="12" rx="4.5" ry="3" fill="#00e9bb"/>
</g>
<path d="M-5.0,-5.0 L41.4,-5.0 L41.4,13.9 L34.9,20.4 L30.3,29.6 L30.3,40.8 L34.0,53.7 L38.7,59.3 L38.7,97.0 L-5.0,97.0Z" fill="#000" filter="url(#speck)" opacity="0.6"/>
<path d="M42.9,-5.0 L42.9,13.9 L36.4,20.4 L31.8,29.6 L31.8,40.8 L35.5,53.7 L40.2,59.3 L40.2,97.0 L75.0,97.0 L75.0,-5.0Z" fill="#000" filter="url(#speck)" opacity="0.3"/>
</g>
<use href="#holes" fill="#808080" opacity="0.5"/>
<circle cx="2.8" cy="37.1" r="1.5" fill="#97ef23"/>
<circle cx="2.6" cy="45.6" r="1.6" fill="#97ef23"/>
<circle cx="6.8" cy="53.4" r="1.2" fill="#97ef23"/>
<circle cx="6.4" cy="40.7" r="1.3" fill="#97ef23"/>
<circle cx="6.6" cy="48.5" r="1.2" fill="#97ef23"/>
<circle cx="5.4" cy="33.2" r="1.2" fill="#97ef23"/>
<circle cx="4" cy="49.5" r="1" fill="#97ef23"/>
<circle cx="8.2" cy="32.6" r="1.4" fill="#97ef23"/>
<circle cx="3.6" cy="48.2" r="1" fill="#97ef23"/>
<circle cx="9.5" cy="31.5" r="1.4" fill="#97ef23"/>
<circle cx="39.5" cy="91.4" r="1.8" fill="#b1be3c"/>
<text class="t" x="69.0" y="-2.3" font-size="5.1" font-weight="bold" text-anchor="end" fill="#111" stroke="#111" stroke-width="0.08">2018-07-27</text>
</g>
<g transform="translate(398.35,169)">
<rect width="67" height="92" fill="#808080"/>
<g clip-path="url(#ic)"><g filter="url(#b1_4)">
<rect x="-5" y="-5" width="77" height="102" fill="#00efe6"/>
<ellipse cx="21" cy="56" rx="7" ry="7" fill="#00b5fe"/>
<path d="M40.5,-5.0 L40.5,13.9 L34.9,25.9 L32.1,36.1 L33.1,46.3 L36.8,55.6 L40.5,59.3 L40.5,97.0" fill="none" stroke="#72e82f" stroke-width="10.0" stroke-linejoin="round"/>
<path d="M40.5,-5.0 L40.5,13.9 L34.9,25.9 L32.1,36.1 L33.1,46.3 L36.8,55.6 L40.5,59.3 L40.5,97.0" fill="none" stroke="#f8e400" stroke-width="4.0" stroke-linejoin="round"/>
<path d="M40.5,-5.0 L40.5,13.9 L34.9,25.9 L32.1,36.1 L33.1,46.3 L36.8,55.6 L40.5,59.3 L40.5,97.0 L75.0,97.0 L75.0,-5.0Z" fill="url(#e12)"/>
<ellipse cx="38.5" cy="12" rx="4.5" ry="3" fill="#00edd8"/>
</g>
<path d="M-5.0,-5.0 L39.0,-5.0 L39.0,13.9 L33.4,25.9 L30.6,36.1 L31.6,46.3 L35.3,55.6 L39.0,59.3 L39.0,97.0 L-5.0,97.0Z" fill="#000" filter="url(#speck)" opacity="0.6"/>
<path d="M40.5,-5.0 L40.5,13.9 L34.9,25.9 L32.1,36.1 L33.1,46.3 L36.8,55.6 L40.5,59.3 L40.5,97.0 L75.0,97.0 L75.0,-5.0Z" fill="#000" filter="url(#speck)" opacity="0.3"/>
</g>
<use href="#holes" fill="#808080" opacity="0.5"/>
<circle cx="2.8" cy="37.1" r="1.5" fill="#b0f018"/>
<circle cx="2.6" cy="45.6" r="1.6" fill="#b0f018"/>
<circle cx="6.8" cy="53.4" r="1.2" fill="#b0f018"/>
<circle cx="6.4" cy="40.7" r="1.3" fill="#b0f018"/>
<circle cx="6.6" cy="48.5" r="1.2" fill="#b0f018"/>
<circle cx="5.4" cy="33.2" r="1.2" fill="#b0f018"/>
<circle cx="4" cy="49.5" r="1" fill="#b0f018"/>
<circle cx="8.2" cy="32.6" r="1.4" fill="#b0f018"/>
<circle cx="3.6" cy="48.2" r="1" fill="#b0f018"/>
<circle cx="9.5" cy="31.5" r="1.4" fill="#b0f018"/>
<circle cx="39.5" cy="91.4" r="1.8" fill="#a5be41"/>
<text class="t" x="69.0" y="-2.3" font-size="5.1" font-weight="bold" text-anchor="end" fill="#111" stroke="#111" stroke-width="0.08">2018-08-02</text>
</g>
<g transform="translate(476.02,169)">
<rect width="67" height="92" fill="#808080"/>
<g clip-path="url(#ic)"><g filter="url(#b1_4)">
<rect x="-5" y="-5" width="77" height="102" fill="#00edd8"/>
<ellipse cx="30" cy="21" rx="4" ry="6" fill="#b0f018"/>
<path d="M42.6,-5.0 L42.6,13.9 L35.2,20.4 L32.4,31.5 L32.4,44.5 L36.1,55.6 L38.9,59.3 L38.9,97.0" fill="none" stroke="#b0f018" stroke-width="10.0" stroke-linejoin="round"/>
<path d="M42.6,-5.0 L42.6,13.9 L35.2,20.4 L32.4,31.5 L32.4,44.5 L36.1,55.6 L38.9,59.3 L38.9,97.0" fill="none" stroke="#ffc700" stroke-width="4.0" stroke-linejoin="round"/>
<path d="M42.6,-5.0 L42.6,13.9 L35.2,20.4 L32.4,31.5 L32.4,44.5 L36.1,55.6 L38.9,59.3 L38.9,97.0 L75.0,97.0 L75.0,-5.0Z" fill="url(#e13)"/>
<ellipse cx="38.5" cy="12" rx="4.5" ry="3" fill="#04e8a9"/>
</g>
<path d="M-5.0,-5.0 L41.1,-5.0 L41.1,13.9 L33.7,20.4 L30.9,31.5 L30.9,44.5 L34.6,55.6 L37.4,59.3 L37.4,97.0 L-5.0,97.0Z" fill="#000" filter="url(#speck)" opacity="0.6"/>
<path d="M42.6,-5.0 L42.6,13.9 L35.2,20.4 L32.4,31.5 L32.4,44.5 L36.1,55.6 L38.9,59.3 L38.9,97.0 L75.0,97.0 L75.0,-5.0Z" fill="#000" filter="url(#speck)" opacity="0.3"/>
</g>
<use href="#holes" fill="#808080" opacity="0.5"/>
<circle cx="2.8" cy="37.1" r="1.5" fill="#35e153"/>
<circle cx="2.6" cy="45.6" r="1.6" fill="#35e153"/>
<circle cx="6.8" cy="53.4" r="1.2" fill="#35e153"/>
<circle cx="6.4" cy="40.7" r="1.3" fill="#35e153"/>
<circle cx="6.6" cy="48.5" r="1.2" fill="#35e153"/>
<circle cx="5.4" cy="33.2" r="1.2" fill="#35e153"/>
<circle cx="4" cy="49.5" r="1" fill="#35e153"/>
<circle cx="8.2" cy="32.6" r="1.4" fill="#35e153"/>
<circle cx="3.6" cy="48.2" r="1" fill="#35e153"/>
<circle cx="9.5" cy="31.5" r="1.4" fill="#35e153"/>
<circle cx="39.5" cy="91.4" r="1.8" fill="#b1be3c"/>
<text class="t" x="69.0" y="-2.3" font-size="5.1" font-weight="bold" text-anchor="end" fill="#111" stroke="#111" stroke-width="0.08">2018-08-08</text>
</g>
<g transform="translate(10.00,282)">
<rect width="67" height="92" fill="#808080"/>
<rect x="22.00" y="6" width="16.00" height="8" fill="#6e968e"/>
<rect x="38.00" y="6" width="16.00" height="8" fill="#6e968e"/>
<rect x="22.00" y="14" width="16.00" height="8" fill="#4ea49a"/>
<rect x="38.00" y="14" width="16.00" height="8" fill="#a87a8c"/>
<rect x="22.00" y="22" width="16.00" height="8" fill="#4ea49a"/>
<rect x="38.00" y="22" width="16.00" height="8" fill="#c86070"/>
<rect x="54.00" y="22" width="13.00" height="8" fill="#a87a8c"/>
<rect x="67" y="22" width="3.00" height="8" fill="#fbeef3"/>
<rect x="6.00" y="30" width="16.00" height="8" fill="#4ea49a"/>
<rect x="22.00" y="30" width="16.00" height="8" fill="#78a878"/>
<rect x="38.00" y="30" width="16.00" height="8" fill="#c86070"/>
<rect x="54.00" y="30" width="13.00" height="8" fill="#d06088"/>
<rect x="67" y="30" width="3.00" height="8" fill="#f8e2ec"/>
<rect x="6.00" y="38" width="16.00" height="8" fill="#4ea49a"/>
<rect x="22.00" y="38" width="16.00" height="8" fill="#4ea49a"/>
<rect x="38.00" y="38" width="16.00" height="8" fill="#d06088"/>
<rect x="6.00" y="46" width="16.00" height="8" fill="#4ea49a"/>
<rect x="22.00" y="46" width="16.00" height="8" fill="#4ea49a"/>
<rect x="38.00" y="46" width="16.00" height="8" fill="#d06088"/>
<rect x="6.00" y="54" width="16.00" height="8" fill="#6e968e"/>
<rect x="22.00" y="54" width="16.00" height="8" fill="#4ea49a"/>
<rect x="38.00" y="54" width="16.00" height="8" fill="#6e968e"/>
<rect x="22.00" y="62" width="16.00" height="8" fill="#4ea49a"/>
<rect x="22.00" y="70" width="16.00" height="8" fill="#6e968e"/>
<g clip-path="url(#ic2)"><g filter="url(#b1_0)">
<rect x="-5" y="-5" width="77" height="102" fill="#38b0e8"/>
<ellipse cx="12" cy="43" rx="9" ry="11" fill="#38c0b0"/>
<path d="M39.5,-5.0 L39.5,8.0 L38.5,20.0 L36.5,32.0 L36.5,42.0 L38.5,52.0 L41.0,58.0 L75.0,61.0" fill="none" stroke="#35e153" stroke-width="16.0" stroke-linejoin="round"/>
<path d="M39.5,-5.0 L39.5,8.0 L38.5,20.0 L36.5,32.0 L36.5,42.0 L38.5,52.0 L41.0,58.0 L75.0,61.0" fill="none" stroke="#c4f00e" stroke-width="8.0" stroke-linejoin="round"/>
<path d="M39.5,-5.0 L39.5,8.0 L38.5,20.0 L36.5,32.0 L36.5,42.0 L38.5,52.0 L41.0,58.0 L75.0,61.0 L75.0,97.0 L75.0,-5.0Z" fill="url(#e14)"/>
<path d="M54.0,29.0 L63.0,33.0 L54.0,38.0Z" fill="#9a8030"/>
<path d="M22.0,18.0 L32.0,11.0" fill="none" stroke="#001bff" stroke-width="1.5" stroke-linecap="round"/>
<path d="M17.0,57.0 L22.0,65.0" fill="none" stroke="#001bff" stroke-width="1.5" stroke-linecap="round"/>
<ellipse cx="47" cy="52" rx="5" ry="4" fill="#a08028"/>
</g>
<path d="M-5.0,-5.0 L36.5,-5.0 L36.5,8.0 L35.5,20.0 L33.5,32.0 L33.5,42.0 L35.5,52.0 L38.0,58.0 L72.0,61.0 L-5.0,97.0Z" fill="#000" filter="url(#speck)" opacity="0.85"/>
<path d="M39.5,-5.0 L39.5,8.0 L38.5,20.0 L36.5,32.0 L36.5,42.0 L38.5,52.0 L41.0,58.0 L75.0,61.0 L75.0,97.0 L75.0,-5.0Z" fill="#000" filter="url(#speck2)" opacity="0.3"/>
</g>
<circle cx="3" cy="45.7" r="1.2" fill="#f8e400"/>
<circle cx="3.2" cy="37.5" r="0.5" fill="#f8e400"/>
<circle cx="39.5" cy="91.4" r="1.8" fill="#c2b73a"/>
<text class="t" x="69.0" y="-2.3" font-size="5.1" font-weight="bold" text-anchor="end" fill="#111" stroke="#111" stroke-width="0.08">2018-08-14</text>
</g>
<g transform="translate(87.67,282)">
<rect width="67" height="92" fill="#808080"/>
<rect x="24.33" y="6" width="16.00" height="8" fill="#6e968e"/>
<rect x="40.33" y="6" width="16.00" height="8" fill="#6e968e"/>
<rect x="8.33" y="14" width="16.00" height="8" fill="#6e968e"/>
<rect x="24.33" y="14" width="16.00" height="8" fill="#4ea49a"/>
<rect x="40.33" y="14" width="16.00" height="8" fill="#a87a8c"/>
<rect x="24.33" y="22" width="16.00" height="8" fill="#78a878"/>
<rect x="40.33" y="22" width="16.00" height="8" fill="#b88060"/>
<rect x="56.33" y="22" width="10.67" height="8" fill="#a87a8c"/>
<rect x="67" y="22" width="5.33" height="8" fill="#fbeef3"/>
<rect x="8.33" y="30" width="16.00" height="8" fill="#4ea49a"/>
<rect x="24.33" y="30" width="16.00" height="8" fill="#78a878"/>
<rect x="40.33" y="30" width="16.00" height="8" fill="#b88060"/>
<rect x="56.33" y="30" width="10.67" height="8" fill="#d06088"/>
<rect x="67" y="30" width="5.33" height="8" fill="#f8e2ec"/>
<rect x="8.33" y="38" width="16.00" height="8" fill="#4ea49a"/>
<rect x="24.33" y="38" width="16.00" height="8" fill="#4ea49a"/>
<rect x="40.33" y="38" width="16.00" height="8" fill="#b88060"/>
<rect x="56.33" y="38" width="10.67" height="8" fill="#d06088"/>
<rect x="67" y="38" width="5.33" height="8" fill="#f8e2ec"/>
<rect x="8.33" y="46" width="16.00" height="8" fill="#4ea49a"/>
<rect x="24.33" y="46" width="16.00" height="8" fill="#4ea49a"/>
<rect x="40.33" y="46" width="16.00" height="8" fill="#78a878"/>
<rect x="8.33" y="54" width="16.00" height="8" fill="#6e968e"/>
<rect x="24.33" y="54" width="16.00" height="8" fill="#4ea49a"/>
<rect x="40.33" y="54" width="16.00" height="8" fill="#6e968e"/>
<rect x="24.33" y="62" width="16.00" height="8" fill="#4ea49a"/>
<rect x="24.33" y="70" width="16.00" height="8" fill="#6e968e"/>
<g clip-path="url(#ic2)"><g filter="url(#b1_0)">
<rect x="-5" y="-5" width="77" height="102" fill="#30b8e8"/>
<ellipse cx="12" cy="43" rx="9" ry="11" fill="#38c0b0"/>
<path d="M41.5,-5.0 L41.5,8.0 L40.5,20.0 L38.5,32.0 L38.5,42.0 L40.5,52.0 L43.0,58.0 L75.0,61.0" fill="none" stroke="#4de23c" stroke-width="18.0" stroke-linejoin="round"/>
<path d="M41.5,-5.0 L41.5,8.0 L40.5,20.0 L38.5,32.0 L38.5,42.0 L40.5,52.0 L43.0,58.0 L75.0,61.0" fill="none" stroke="#c4f00e" stroke-width="8.0" stroke-linejoin="round"/>
<path d="M41.5,-5.0 L41.5,8.0 L40.5,20.0 L38.5,32.0 L38.5,42.0 L40.5,52.0 L43.0,58.0 L75.0,61.0 L75.0,97.0 L75.0,-5.0Z" fill="url(#e15)"/>
<path d="M54.0,29.0 L63.0,33.0 L54.0,38.0Z" fill="#b0a030"/>
<path d="M22.0,18.0 L32.0,11.0" fill="none" stroke="#001bff" stroke-width="1.5" stroke-linecap="round"/>
<path d="M17.0,57.0 L22.0,65.0" fill="none" stroke="#001bff" stroke-width="1.5" stroke-linecap="round"/>
<ellipse cx="46" cy="54" rx="5" ry="3" fill="#c4f00e"/>
</g>
<path d="M-5.0,-5.0 L38.5,-5.0 L38.5,8.0 L37.5,20.0 L35.5,32.0 L35.5,42.0 L37.5,52.0 L40.0,58.0 L72.0,61.0 L-5.0,97.0Z" fill="#000" filter="url(#speck)" opacity="0.85"/>
<path d="M41.5,-5.0 L41.5,8.0 L40.5,20.0 L38.5,32.0 L38.5,42.0 L40.5,52.0 L43.0,58.0 L75.0,61.0 L75.0,97.0 L75.0,-5.0Z" fill="#000" filter="url(#speck2)" opacity="0.3"/>
</g>
<circle cx="3" cy="45.7" r="1.2" fill="#f8e400"/>
<circle cx="3.2" cy="37.5" r="0.5" fill="#f8e400"/>
<circle cx="39.5" cy="91.4" r="1.8" fill="#babb3a"/>
<text class="t" x="69.0" y="-2.3" font-size="5.1" font-weight="bold" text-anchor="end" fill="#111" stroke="#111" stroke-width="0.08">2018-08-20</text>
</g>
<g transform="translate(165.34,282)">
<rect width="67" height="92" fill="#808080"/>
<rect x="26.66" y="6" width="16.00" height="8" fill="#6e968e"/>
<rect x="10.66" y="14" width="16.00" height="8" fill="#6e968e"/>
<rect x="26.66" y="14" width="16.00" height="8" fill="#6e968e"/>
<rect x="42.66" y="14" width="16.00" height="8" fill="#a87a8c"/>
<rect x="10.66" y="22" width="16.00" height="8" fill="#6e968e"/>
<rect x="26.66" y="22" width="16.00" height="8" fill="#b88060"/>
<rect x="42.66" y="22" width="16.00" height="8" fill="#d06088"/>
<rect x="10.66" y="30" width="16.00" height="8" fill="#6e968e"/>
<rect x="26.66" y="30" width="16.00" height="8" fill="#b88060"/>
<rect x="42.66" y="30" width="16.00" height="8" fill="#c86070"/>
<rect x="58.66" y="30" width="8.34" height="8" fill="#a87a8c"/>
<rect x="67" y="30" width="7.66" height="8" fill="#fbeef3"/>
<rect x="10.66" y="38" width="16.00" height="8" fill="#4ea49a"/>
<rect x="26.66" y="38" width="16.00" height="8" fill="#b88060"/>
<rect x="42.66" y="38" width="16.00" height="8" fill="#d06088"/>
<rect x="10.66" y="46" width="16.00" height="8" fill="#4ea49a"/>
<rect x="26.66" y="46" width="16.00" height="8" fill="#a8a060"/>
<rect x="42.66" y="46" width="16.00" height="8" fill="#a87a8c"/>
<rect x="10.66" y="54" width="16.00" height="8" fill="#6e968e"/>
<rect x="26.66" y="54" width="16.00" height="8" fill="#4ea49a"/>
<rect x="26.66" y="62" width="16.00" height="8" fill="#6e968e"/>
<g clip-path="url(#ic2)"><g filter="url(#b1_0)">
<rect x="-5" y="-5" width="77" height="102" fill="#30b8c8"/>
<ellipse cx="12" cy="43" rx="9" ry="11" fill="#40b090"/>
<path d="M29.0,-5.0 L29.0,8.0 L28.0,20.0 L26.0,32.0 L26.0,42.0 L28.0,52.0 L30.5,58.0 L75.0,61.0" fill="none" stroke="#72e82f" stroke-width="6.0" stroke-linejoin="round"/>
<path d="M29.0,-5.0 L29.0,8.0 L28.0,20.0 L26.0,32.0 L26.0,42.0 L28.0,52.0 L30.5,58.0 L75.0,61.0 L75.0,97.0 L75.0,-5.0Z" fill="url(#e16)"/>
<ellipse cx="51" cy="33" rx="7" ry="12" fill="#ff0300"/>
<ellipse cx="40" cy="33" rx="3.5" ry="13" fill="#9a5a1a"/>
<ellipse cx="37" cy="16" rx="6" ry="3" fill="#72e82f"/>
<ellipse cx="37" cy="55" rx="7" ry="3" fill="#a8b030"/>
<path d="M54.0,29.0 L63.0,33.0 L54.0,38.0Z" fill="#807030"/>
<path d="M22.0,18.0 L32.0,11.0" fill="none" stroke="#001bff" stroke-width="1.5" stroke-linecap="round"/>
<path d="M17.0,57.0 L22.0,65.0" fill="none" stroke="#001bff" stroke-width="1.5" stroke-linecap="round"/>
</g>
<path d="M-5.0,-5.0 L26.0,-5.0 L26.0,8.0 L25.0,20.0 L23.0,32.0 L23.0,42.0 L25.0,52.0 L27.5,58.0 L72.0,61.0 L-5.0,97.0Z" fill="#000" filter="url(#speck)" opacity="0.85"/>
<path d="M29.0,-5.0 L29.0,8.0 L28.0,20.0 L26.0,32.0 L26.0,42.0 L28.0,52.0 L30.5,58.0 L75.0,61.0 L75.0,97.0 L75.0,-5.0Z" fill="#000" filter="url(#speck2)" opacity="0.3"/>
</g>
<circle cx="3" cy="45.7" r="1.2" fill="#f8e400"/>
<circle cx="3.2" cy="37.5" r="0.5" fill="#f8e400"/>
<circle cx="39.5" cy="91.4" r="1.8" fill="#babb3a"/>
<text class="t" x="69.0" y="-2.3" font-size="5.1" font-weight="bold" text-anchor="end" fill="#111" stroke="#111" stroke-width="0.08">2018-08-26</text>
</g>
<g transform="translate(243.01,282)">
<rect width="67" height="92" fill="#808080"/>
<rect x="28.99" y="6" width="16.00" height="8" fill="#6e968e"/>
<rect x="12.99" y="14" width="16.00" height="8" fill="#6e968e"/>
<rect x="28.99" y="14" width="16.00" height="8" fill="#78a878"/>
<rect x="44.99" y="14" width="16.00" height="8" fill="#a87a8c"/>
<rect x="12.99" y="22" width="16.00" height="8" fill="#4ea49a"/>
<rect x="28.99" y="22" width="16.00" height="8" fill="#b88060"/>
<rect x="44.99" y="22" width="16.00" height="8" fill="#b88060"/>
<rect x="0.00" y="30" width="12.99" height="8" fill="#6e968e"/>
<rect x="-3.01" y="30" width="3.01" height="8" fill="#eef8f6"/>
<rect x="12.99" y="30" width="16.00" height="8" fill="#4ea49a"/>
<rect x="28.99" y="30" width="16.00" height="8" fill="#b88060"/>
<rect x="44.99" y="30" width="16.00" height="8" fill="#d06088"/>
<rect x="0.00" y="38" width="12.99" height="8" fill="#6e968e"/>
<rect x="-3.01" y="38" width="3.01" height="8" fill="#eef8f6"/>
<rect x="12.99" y="38" width="16.00" height="8" fill="#4ea49a"/>
<rect x="28.99" y="38" width="16.00" height="8" fill="#b88060"/>
<rect x="44.99" y="38" width="16.00" height="8" fill="#d06088"/>
<rect x="0.00" y="46" width="12.99" height="8" fill="#6e968e"/>
<rect x="-3.01" y="46" width="3.01" height="8" fill="#eef8f6"/>
<rect x="12.99" y="46" width="16.00" height="8" fill="#4ea49a"/>
<rect x="28.99" y="46" width="16.00" height="8" fill="#a8a060"/>
<rect x="12.99" y="54" width="16.00" height="8" fill="#4ea49a"/>
<rect x="28.99" y="54" width="16.00" height="8" fill="#6e968e"/>
<rect x="28.99" y="62" width="16.00" height="8" fill="#4ea49a"/>
<rect x="28.99" y="70" width="16.00" height="8" fill="#6e968e"/>
<g clip-path="url(#ic2)"><g filter="url(#b1_0)">
<rect x="-5" y="-5" width="77" height="102" fill="#38a8e8"/>
<ellipse cx="12" cy="43" rx="9" ry="11" fill="#38c0b0"/>
<path d="M30.5,-5.0 L30.5,8.0 L29.5,20.0 L27.5,32.0 L27.5,42.0 L29.5,52.0 L32.0,58.0 L75.0,61.0" fill="none" stroke="#35e153" stroke-width="6.0" stroke-linejoin="round"/>
<path d="M30.5,-5.0 L30.5,8.0 L29.5,20.0 L27.5,32.0 L27.5,42.0 L29.5,52.0 L32.0,58.0 L75.0,61.0 L75.0,97.0 L75.0,-5.0Z" fill="url(#e17)"/>
<ellipse cx="37" cy="33" rx="4" ry="13" fill="#a06a18"/>
<ellipse cx="52" cy="33" rx="6" ry="6" fill="#ff6400"/>
<ellipse cx="38" cy="15" rx="6" ry="3" fill="#72e82f"/>
<ellipse cx="38" cy="55" rx="7" ry="3" fill="#e9eb00"/>
<path d="M54.0,29.0 L63.0,33.0 L54.0,38.0Z" fill="#a06030"/>
<path d="M22.0,18.0 L32.0,11.0" fill="none" stroke="#001bff" stroke-width="1.5" stroke-linecap="round"/>
<path d="M17.0,57.0 L22.0,65.0" fill="none" stroke="#001bff" stroke-width="1.5" stroke-linecap="round"/>
</g>
<path d="M-5.0,-5.0 L27.5,-5.0 L27.5,8.0 L26.5,20.0 L24.5,32.0 L24.5,42.0 L26.5,52.0 L29.0,58.0 L72.0,61.0 L-5.0,97.0Z" fill="#000" filter="url(#speck)" opacity="0.85"/>
<path d="M30.5,-5.0 L30.5,8.0 L29.5,20.0 L27.5,32.0 L27.5,42.0 L29.5,52.0 L32.0,58.0 L75.0,61.0 L75.0,97.0 L75.0,-5.0Z" fill="#000" filter="url(#speck2)" opacity="0.3"/>
</g>
<circle cx="3" cy="45.7" r="1.2" fill="#f8e400"/>
<circle cx="3.2" cy="37.5" r="0.5" fill="#f8e400"/>
<circle cx="39.5" cy="91.4" r="1.8" fill="#babb3a"/>
<text class="t" x="69.0" y="-2.3" font-size="5.1" font-weight="bold" text-anchor="end" fill="#111" stroke="#111" stroke-width="0.08">2018-09-01</text>
</g>
<g transform="translate(320.68,282)">
<rect width="67" height="92" fill="#808080"/>
<rect x="31.32" y="6" width="16.00" height="8" fill="#6e968e"/>
<rect x="15.32" y="14" width="16.00" height="8" fill="#6e968e"/>
<rect x="31.32" y="14" width="16.00" height="8" fill="#a8a060"/>
<rect x="47.32" y="14" width="16.00" height="8" fill="#a87a8c"/>
<rect x="15.32" y="22" width="16.00" height="8" fill="#4ea49a"/>
<rect x="31.32" y="22" width="16.00" height="8" fill="#c86070"/>
<rect x="47.32" y="22" width="16.00" height="8" fill="#d06088"/>
<rect x="0.00" y="30" width="15.32" height="8" fill="#6e968e"/>
<rect x="-0.68" y="30" width="0.68" height="8" fill="#eef8f6"/>
<rect x="15.32" y="30" width="16.00" height="8" fill="#78a878"/>
<rect x="31.32" y="30" width="16.00" height="8" fill="#c86070"/>
<rect x="47.32" y="30" width="16.00" height="8" fill="#d06088"/>
<rect x="15.32" y="38" width="16.00" height="8" fill="#4ea49a"/>
<rect x="31.32" y="38" width="16.00" height="8" fill="#c86070"/>
<rect x="47.32" y="38" width="16.00" height="8" fill="#a87a8c"/>
<rect x="15.32" y="46" width="16.00" height="8" fill="#4ea49a"/>
<rect x="31.32" y="46" width="16.00" height="8" fill="#b88060"/>
<rect x="15.32" y="54" width="16.00" height="8" fill="#4ea49a"/>
<rect x="31.32" y="54" width="16.00" height="8" fill="#a87a8c"/>
<rect x="15.32" y="62" width="16.00" height="8" fill="#6e968e"/>
<rect x="31.32" y="62" width="16.00" height="8" fill="#6e968e"/>
<rect x="31.32" y="70" width="16.00" height="8" fill="#6e968e"/>
<g clip-path="url(#ic2)"><g filter="url(#b1_0)">
<rect x="-5" y="-5" width="77" height="102" fill="#70d088"/>
<ellipse cx="12" cy="43" rx="9" ry="11" fill="#b8d450"/>
<path d="M32.5,-5.0 L32.5,8.0 L31.5,20.0 L29.5,32.0 L29.5,42.0 L31.5,52.0 L34.0,58.0 L75.0,61.0" fill="none" stroke="#72e82f" stroke-width="12.0" stroke-linejoin="round"/>
<path d="M32.5,-5.0 L32.5,8.0 L31.5,20.0 L29.5,32.0 L29.5,42.0 L31.5,52.0 L34.0,58.0 L75.0,61.0" fill="none" stroke="#e9eb00" stroke-width="6.0" stroke-linejoin="round"/>
<path d="M32.5,-5.0 L32.5,8.0 L31.5,20.0 L29.5,32.0 L29.5,42.0 L31.5,52.0 L34.0,58.0 L75.0,61.0 L75.0,97.0 L75.0,-5.0Z" fill="url(#e18)"/>
<ellipse cx="50" cy="20" rx="5" ry="6" fill="#806020"/>
<path d="M54.0,29.0 L63.0,33.0 L54.0,38.0Z" fill="#c04040"/>
<ellipse cx="38" cy="14" rx="5" ry="3" fill="#d9f004"/>
<ellipse cx="38" cy="58" rx="6" ry="3" fill="#a06020"/>
</g>
<path d="M-5.0,-5.0 L29.5,-5.0 L29.5,8.0 L28.5,20.0 L26.5,32.0 L26.5,42.0 L28.5,52.0 L31.0,58.0 L72.0,61.0 L-5.0,97.0Z" fill="#000" filter="url(#speck)" opacity="0.85"/>
<path d="M32.5,-5.0 L32.5,8.0 L31.5,20.0 L29.5,32.0 L29.5,42.0 L31.5,52.0 L34.0,58.0 L75.0,61.0 L75.0,97.0 L75.0,-5.0Z" fill="#000" filter="url(#speck2)" opacity="0.3"/>
</g>
<circle cx="3" cy="45.7" r="1.2" fill="#d9f004"/>
<circle cx="3.2" cy="37.5" r="0.5" fill="#d9f004"/>
<circle cx="39.5" cy="91.4" r="1.8" fill="#babb3a"/>
<text class="t" x="69.0" y="-2.3" font-size="5.1" font-weight="bold" text-anchor="end" fill="#111" stroke="#111" stroke-width="0.08">2018-09-07</text>
</g>
<g transform="translate(398.35,282)">
<rect width="67" height="92" fill="#808080"/>
<rect x="33.65" y="6" width="16.00" height="8" fill="#6e968e"/>
<rect x="17.65" y="14" width="16.00" height="8" fill="#4ea49a"/>
<rect x="33.65" y="14" width="16.00" height="8" fill="#a8a060"/>
<rect x="17.65" y="22" width="16.00" height="8" fill="#4ea49a"/>
<rect x="33.65" y="22" width="16.00" height="8" fill="#b88060"/>
<rect x="49.65" y="22" width="16.00" height="8" fill="#d06088"/>
<rect x="1.65" y="30" width="16.00" height="8" fill="#6e968e"/>
<rect x="17.65" y="30" width="16.00" height="8" fill="#4ea49a"/>
<rect x="33.65" y="30" width="16.00" height="8" fill="#b88060"/>
<rect x="49.65" y="30" width="16.00" height="8" fill="#d06088"/>
<rect x="1.65" y="38" width="16.00" height="8" fill="#6e968e"/>
<rect x="17.65" y="38" width="16.00" height="8" fill="#4ea49a"/>
<rect x="33.65" y="38" width="16.00" height="8" fill="#b88060"/>
<rect x="1.65" y="46" width="16.00" height="8" fill="#6e968e"/>
<rect x="17.65" y="46" width="16.00" height="8" fill="#4ea49a"/>
<rect x="33.65" y="46" width="16.00" height="8" fill="#b88060"/>
<rect x="1.65" y="54" width="16.00" height="8" fill="#6e968e"/>
<rect x="17.65" y="54" width="16.00" height="8" fill="#4ea49a"/>
<rect x="33.65" y="54" width="16.00" height="8" fill="#6e968e"/>
<rect x="17.65" y="62" width="16.00" height="8" fill="#6e968e"/>
<rect x="33.65" y="62" width="16.00" height="8" fill="#6e968e"/>
<g clip-path="url(#ic2)"><g filter="url(#b1_0)">
<rect x="-5" y="-5" width="77" height="102" fill="#30a8e8"/>
<ellipse cx="12" cy="43" rx="9" ry="11" fill="#38c0b0"/>
<path d="M35.0,-5.0 L35.0,8.0 L34.0,20.0 L32.0,32.0 L32.0,42.0 L34.0,52.0 L36.5,58.0 L75.0,61.0" fill="none" stroke="#72e82f" stroke-width="10.0" stroke-linejoin="round"/>
<path d="M35.0,-5.0 L35.0,8.0 L34.0,20.0 L32.0,32.0 L32.0,42.0 L34.0,52.0 L36.5,58.0 L75.0,61.0" fill="none" stroke="#d9f004" stroke-width="4.0" stroke-linejoin="round"/>
<path d="M35.0,-5.0 L35.0,8.0 L34.0,20.0 L32.0,32.0 L32.0,42.0 L34.0,52.0 L36.5,58.0 L75.0,61.0 L75.0,97.0 L75.0,-5.0Z" fill="url(#e19)"/>
<path d="M54.0,29.0 L63.0,33.0 L54.0,38.0Z" fill="#d07020"/>
<path d="M22.0,18.0 L32.0,11.0" fill="none" stroke="#001bff" stroke-width="1.5" stroke-linecap="round"/>
<path d="M17.0,57.0 L22.0,65.0" fill="none" stroke="#001bff" stroke-width="1.5" stroke-linecap="round"/>
</g>
<path d="M-5.0,-5.0 L32.0,-5.0 L32.0,8.0 L31.0,20.0 L29.0,32.0 L29.0,42.0 L31.0,52.0 L33.5,58.0 L72.0,61.0 L-5.0,97.0Z" fill="#000" filter="url(#speck)" opacity="0.85"/>
<path d="M35.0,-5.0 L35.0,8.0 L34.0,20.0 L32.0,32.0 L32.0,42.0 L34.0,52.0 L36.5,58.0 L75.0,61.0 L75.0,97.0 L75.0,-5.0Z" fill="#000" filter="url(#speck2)" opacity="0.3"/>
</g>
<circle cx="3" cy="45.7" r="1.2" fill="#d9f004"/>
<circle cx="3.2" cy="37.5" r="0.5" fill="#d9f004"/>
<circle cx="39.5" cy="91.4" r="1.8" fill="#babb3a"/>
<text class="t" x="69.0" y="-2.3" font-size="5.1" font-weight="bold" text-anchor="end" fill="#111" stroke="#111" stroke-width="0.08">2018-09-13</text>
</g>
<g transform="translate(476.02,282)">
<rect width="67" height="92" fill="#808080"/>
<rect x="35.98" y="6" width="16.00" height="8" fill="#6e968e"/>
<rect x="19.98" y="14" width="16.00" height="8" fill="#4ea49a"/>
<rect x="35.98" y="14" width="16.00" height="8" fill="#b88060"/>
<rect x="19.98" y="22" width="16.00" height="8" fill="#78a878"/>
<rect x="35.98" y="22" width="16.00" height="8" fill="#c86070"/>
<rect x="51.98" y="22" width="15.02" height="8" fill="#d06088"/>
<rect x="67" y="22" width="0.98" height="8" fill="#f8e2ec"/>
<rect x="3.98" y="30" width="16.00" height="8" fill="#6e968e"/>
<rect x="19.98" y="30" width="16.00" height="8" fill="#78a878"/>
<rect x="35.98" y="30" width="16.00" height="8" fill="#c86070"/>
<rect x="51.98" y="30" width="15.02" height="8" fill="#d06088"/>
<rect x="67" y="30" width="0.98" height="8" fill="#f8e2ec"/>
<rect x="3.98" y="38" width="16.00" height="8" fill="#6e968e"/>
<rect x="19.98" y="38" width="16.00" height="8" fill="#78a878"/>
<rect x="35.98" y="38" width="16.00" height="8" fill="#c86070"/>
<rect x="3.98" y="46" width="16.00" height="8" fill="#6e968e"/>
<rect x="19.98" y="46" width="16.00" height="8" fill="#78a878"/>
<rect x="35.98" y="46" width="16.00" height="8" fill="#d06088"/>
<rect x="3.98" y="54" width="16.00" height="8" fill="#6e968e"/>
<rect x="19.98" y="54" width="16.00" height="8" fill="#4ea49a"/>
<rect x="35.98" y="54" width="16.00" height="8" fill="#a87a8c"/>
<rect x="19.98" y="62" width="16.00" height="8" fill="#4ea49a"/>
<rect x="19.98" y="70" width="16.00" height="8" fill="#6e968e"/>
<g clip-path="url(#ic2)"><g filter="url(#b1_0)">
<rect x="-5" y="-5" width="77" height="102" fill="#80d860"/>
<ellipse cx="12" cy="43" rx="9" ry="11" fill="#b0d050"/>
<path d="M37.5,-5.0 L37.5,8.0 L36.5,20.0 L34.5,32.0 L34.5,42.0 L36.5,52.0 L39.0,58.0 L75.0,61.0" fill="none" stroke="#b0f018" stroke-width="14.0" stroke-linejoin="round"/>
<path d="M37.5,-5.0 L37.5,8.0 L36.5,20.0 L34.5,32.0 L34.5,42.0 L36.5,52.0 L39.0,58.0 L75.0,61.0" fill="none" stroke="#e9eb00" stroke-width="6.0" stroke-linejoin="round"/>
<path d="M37.5,-5.0 L37.5,8.0 L36.5,20.0 L34.5,32.0 L34.5,42.0 L36.5,52.0 L39.0,58.0 L75.0,61.0 L75.0,97.0 L75.0,-5.0Z" fill="url(#e20)"/>
<path d="M54.0,29.0 L63.0,33.0 L54.0,38.0Z" fill="#905020"/>
<ellipse cx="24" cy="60" rx="5" ry="6" fill="#00efe6"/>
<ellipse cx="26" cy="18" rx="5" ry="4" fill="#00efe6"/>
</g>
<path d="M-5.0,-5.0 L34.5,-5.0 L34.5,8.0 L33.5,20.0 L31.5,32.0 L31.5,42.0 L33.5,52.0 L36.0,58.0 L72.0,61.0 L-5.0,97.0Z" fill="#000" filter="url(#speck)" opacity="0.85"/>
<path d="M37.5,-5.0 L37.5,8.0 L36.5,20.0 L34.5,32.0 L34.5,42.0 L36.5,52.0 L39.0,58.0 L75.0,61.0 L75.0,97.0 L75.0,-5.0Z" fill="#000" filter="url(#speck2)" opacity="0.3"/>
</g>
<circle cx="3" cy="45.7" r="1.2" fill="#e9eb00"/>
<circle cx="3.2" cy="37.5" r="0.5" fill="#e9eb00"/>
<circle cx="39.5" cy="91.4" r="1.8" fill="#babb3a"/>
<text class="t" x="69.0" y="-2.3" font-size="5.1" font-weight="bold" text-anchor="end" fill="#111" stroke="#111" stroke-width="0.08">2018-09-19</text>
</g>
<g transform="translate(10.00,395)">
<rect width="67" height="92" fill="#808080"/>
<rect x="22.00" y="5" width="16.00" height="8" fill="#6e968e"/>
<rect x="38.00" y="5" width="16.00" height="8" fill="#6e968e"/>
<rect x="22.00" y="13" width="16.00" height="8" fill="#4ea49a"/>
<rect x="38.00" y="13" width="16.00" height="8" fill="#a8a060"/>
<rect x="22.00" y="21" width="16.00" height="8" fill="#4ea49a"/>
<rect x="38.00" y="21" width="16.00" height="8" fill="#b88060"/>
<rect x="54.00" y="21" width="13.00" height="8" fill="#a87a8c"/>
<rect x="67" y="21" width="3.00" height="8" fill="#fbeef3"/>
<rect x="6.00" y="29" width="16.00" height="8" fill="#6e968e"/>
<rect x="22.00" y="29" width="16.00" height="8" fill="#4ea49a"/>
<rect x="38.00" y="29" width="16.00" height="8" fill="#b88060"/>
<rect x="54.00" y="29" width="13.00" height="8" fill="#d06088"/>
<rect x="67" y="29" width="3.00" height="8" fill="#f8e2ec"/>
<rect x="6.00" y="37" width="16.00" height="8" fill="#4ea49a"/>
<rect x="22.00" y="37" width="16.00" height="8" fill="#4ea49a"/>
<rect x="38.00" y="37" width="16.00" height="8" fill="#b88060"/>
<rect x="54.00" y="37" width="13.00" height="8" fill="#a87a8c"/>
<rect x="67" y="37" width="3.00" height="8" fill="#fbeef3"/>
<rect x="6.00" y="45" width="16.00" height="8" fill="#4ea49a"/>
<rect x="22.00" y="45" width="16.00" height="8" fill="#4ea49a"/>
<rect x="38.00" y="45" width="16.00" height="8" fill="#b88060"/>
<rect x="6.00" y="53" width="16.00" height="8" fill="#6e968e"/>
<rect x="22.00" y="53" width="16.00" height="8" fill="#4ea49a"/>
<rect x="38.00" y="53" width="16.00" height="8" fill="#6e968e"/>
<rect x="22.00" y="61" width="16.00" height="8" fill="#4ea49a"/>
<rect x="22.00" y="69" width="16.00" height="8" fill="#6e968e"/>
<g clip-path="url(#ic2)"><g filter="url(#b1_0)">
<rect x="-5" y="-5" width="77" height="102" fill="#38b0e8"/>
<ellipse cx="12" cy="43" rx="9" ry="11" fill="#38c0b0"/>
<path d="M39.5,-5.0 L39.5,8.0 L38.5,20.0 L36.5,32.0 L36.5,42.0 L38.5,52.0 L41.0,58.0 L75.0,61.0" fill="none" stroke="#4de23c" stroke-width="16.0" stroke-linejoin="round"/>
<path d="M39.5,-5.0 L39.5,8.0 L38.5,20.0 L36.5,32.0 L36.5,42.0 L38.5,52.0 L41.0,58.0 L75.0,61.0" fill="none" stroke="#c4f00e" stroke-width="6.0" stroke-linejoin="round"/>
<path d="M39.5,-5.0 L39.5,8.0 L38.5,20.0 L36.5,32.0 L36.5,42.0 L38.5,52.0 L41.0,58.0 L75.0,61.0 L75.0,97.0 L75.0,-5.0Z" fill="url(#e21)"/>
<path d="M54.0,29.0 L63.0,33.0 L54.0,38.0Z" fill="#c0a020"/>
<path d="M22.0,18.0 L32.0,11.0" fill="none" stroke="#001bff" stroke-width="1.5" stroke-linecap="round"/>
<path d="M17.0,57.0 L22.0,65.0" fill="none" stroke="#001bff" stroke-width="1.5" stroke-linecap="round"/>
</g>
<path d="M-5.0,-5.0 L36.5,-5.0 L36.5,8.0 L35.5,20.0 L33.5,32.0 L33.5,42.0 L35.5,52.0 L38.0,58.0 L72.0,61.0 L-5.0,97.0Z" fill="#000" filter="url(#speck)" opacity="0.85"/>
<path d="M39.5,-5.0 L39.5,8.0 L38.5,20.0 L36.5,32.0 L36.5,42.0 L38.5,52.0 L41.0,58.0 L75.0,61.0 L75.0,97.0 L75.0,-5.0Z" fill="#000" filter="url(#speck2)" opacity="0.3"/>
</g>
<circle cx="3" cy="45.7" r="1.2" fill="#e9eb00"/>
<circle cx="3.2" cy="37.5" r="0.5" fill="#e9eb00"/>
<circle cx="39.5" cy="91.4" r="1.8" fill="#babb3a"/>
<text class="t" x="69.0" y="-2.3" font-size="5.1" font-weight="bold" text-anchor="end" fill="#111" stroke="#111" stroke-width="0.08">2018-09-25</text>
</g>
<g transform="translate(87.67,395)">
<rect width="67" height="92" fill="#808080"/>
<rect x="24.33" y="5" width="16.00" height="8" fill="#6e968e"/>
<rect x="40.33" y="5" width="16.00" height="8" fill="#6e968e"/>
<rect x="24.33" y="13" width="16.00" height="8" fill="#78a878"/>
<rect x="40.33" y="13" width="16.00" height="8" fill="#a87a8c"/>
<rect x="24.33" y="21" width="16.00" height="8" fill="#a8a060"/>
<rect x="40.33" y="21" width="16.00" height="8" fill="#c86070"/>
<rect x="56.33" y="21" width="10.67" height="8" fill="#d06088"/>
<rect x="67" y="21" width="5.33" height="8" fill="#f8e2ec"/>
<rect x="8.33" y="29" width="16.00" height="8" fill="#6e968e"/>
<rect x="24.33" y="29" width="16.00" height="8" fill="#a8a060"/>
<rect x="40.33" y="29" width="16.00" height="8" fill="#c86070"/>
<rect x="56.33" y="29" width="10.67" height="8" fill="#d06088"/>
<rect x="67" y="29" width="5.33" height="8" fill="#f8e2ec"/>
<rect x="8.33" y="37" width="16.00" height="8" fill="#78a878"/>
<rect x="24.33" y="37" width="16.00" height="8" fill="#a8a060"/>
<rect x="40.33" y="37" width="16.00" height="8" fill="#c86070"/>
<rect x="56.33" y="37" width="10.67" height="8" fill="#d06088"/>
<rect x="67" y="37" width="5.33" height="8" fill="#f8e2ec"/>
<rect x="8.33" y="45" width="16.00" height="8" fill="#4ea49a"/>
<rect x="24.33" y="45" width="16.00" height="8" fill="#a8a060"/>
<rect x="40.33" y="45" width="16.00" height="8" fill="#b88060"/>
<rect x="8.33" y="53" width="16.00" height="8" fill="#6e968e"/>
<rect x="24.33" y="53" width="16.00" height="8" fill="#78a878"/>
<rect x="40.33" y="53" width="16.00" height="8" fill="#6e968e"/>
<rect x="24.33" y="61" width="16.00" height="8" fill="#4ea49a"/>
<rect x="24.33" y="69" width="16.00" height="8" fill="#6e968e"/>
<g clip-path="url(#ic2)"><g filter="url(#b1_0)">
<rect x="-5" y="-5" width="77" height="102" fill="#a0d040"/>
<ellipse cx="12" cy="43" rx="9" ry="11" fill="#a0c050"/>
<path d="M25.5,-5.0 L25.5,8.0 L24.5,20.0 L22.5,32.0 L22.5,42.0 L24.5,52.0 L27.0,58.0 L75.0,61.0" fill="none" stroke="#c4f00e" stroke-width="6.0" stroke-linejoin="round"/>
<path d="M25.5,-5.0 L25.5,8.0 L24.5,20.0 L22.5,32.0 L22.5,42.0 L24.5,52.0 L27.0,58.0 L75.0,61.0 L75.0,97.0 L75.0,-5.0Z" fill="url(#e22)"/>
<ellipse cx="50" cy="33" rx="7" ry="12" fill="#ff0b00"/>
<ellipse cx="44" cy="18" rx="6" ry="4" fill="#a06020"/>
<ellipse cx="49" cy="49" rx="5" ry="5" fill="#a06020"/>
<ellipse cx="37" cy="33" rx="3" ry="12" fill="#ff9800"/>
<ellipse cx="17" cy="52" rx="5" ry="7" fill="#00e9bb"/>
<path d="M54.0,29.0 L63.0,33.0 L54.0,38.0Z" fill="#806020"/>
</g>
<path d="M-5.0,-5.0 L22.5,-5.0 L22.5,8.0 L21.5,20.0 L19.5,32.0 L19.5,42.0 L21.5,52.0 L24.0,58.0 L72.0,61.0 L-5.0,97.0Z" fill="#000" filter="url(#speck)" opacity="0.85"/>
<path d="M25.5,-5.0 L25.5,8.0 L24.5,20.0 L22.5,32.0 L22.5,42.0 L24.5,52.0 L27.0,58.0 L75.0,61.0 L75.0,97.0 L75.0,-5.0Z" fill="#000" filter="url(#speck2)" opacity="0.3"/>
</g>
<circle cx="3" cy="45.7" r="1.2" fill="#d9f004"/>
<circle cx="3.2" cy="37.5" r="0.5" fill="#d9f004"/>
<circle cx="39.5" cy="91.4" r="1.8" fill="#babb3a"/>
<text class="t" x="69.0" y="-2.3" font-size="5.1" font-weight="bold" text-anchor="end" fill="#111" stroke="#111" stroke-width="0.08">2018-10-01</text>
</g>
<g transform="translate(165.34,395)">
<rect width="67" height="92" fill="#808080"/>
<rect x="26.66" y="5" width="16.00" height="8" fill="#6e968e"/>
<rect x="10.66" y="13" width="16.00" height="8" fill="#6e968e"/>
<rect x="26.66" y="13" width="16.00" height="8" fill="#78a878"/>
<rect x="42.66" y="13" width="16.00" height="8" fill="#a87a8c"/>
<rect x="10.66" y="21" width="16.00" height="8" fill="#6e968e"/>
<rect x="26.66" y="21" width="16.00" height="8" fill="#b88060"/>
<rect x="42.66" y="21" width="16.00" height="8" fill="#c86070"/>
<rect x="58.66" y="21" width="8.34" height="8" fill="#d06088"/>
<rect x="67" y="21" width="7.66" height="8" fill="#f8e2ec"/>
<rect x="26.66" y="29" width="16.00" height="8" fill="#b88060"/>
<rect x="42.66" y="29" width="16.00" height="8" fill="#c86070"/>
<rect x="58.66" y="29" width="8.34" height="8" fill="#d06088"/>
<rect x="67" y="29" width="7.66" height="8" fill="#f8e2ec"/>
<rect x="10.66" y="37" width="16.00" height="8" fill="#78a878"/>
<rect x="26.66" y="37" width="16.00" height="8" fill="#b88060"/>
<rect x="42.66" y="37" width="16.00" height="8" fill="#c86070"/>
<rect x="58.66" y="37" width="8.34" height="8" fill="#a87a8c"/>
<rect x="67" y="37" width="7.66" height="8" fill="#fbeef3"/>
<rect x="10.66" y="45" width="16.00" height="8" fill="#4ea49a"/>
<rect x="26.66" y="45" width="16.00" height="8" fill="#b88060"/>
<rect x="42.66" y="45" width="16.00" height="8" fill="#b88060"/>
<rect x="10.66" y="53" width="16.00" height="8" fill="#4ea49a"/>
<rect x="26.66" y="53" width="16.00" height="8" fill="#a8a060"/>
<rect x="10.66" y="61" width="16.00" height="8" fill="#6e968e"/>
<rect x="26.66" y="61" width="16.00" height="8" fill="#78a878"/>
<rect x="26.66" y="69" width="16.00" height="8" fill="#6e968e"/>
<g clip-path="url(#ic2)"><g filter="url(#b1_0)">
<rect x="-5" y="-5" width="77" height="102" fill="#a8d040"/>
<ellipse cx="12" cy="43" rx="9" ry="11" fill="#a0c050"/>
<path d="M27.5,-5.0 L27.5,8.0 L26.5,20.0 L24.5,32.0 L24.5,42.0 L26.5,52.0 L29.0,58.0 L75.0,61.0" fill="none" stroke="#f8e400" stroke-width="6.0" stroke-linejoin="round"/>
<path d="M27.5,-5.0 L27.5,8.0 L26.5,20.0 L24.5,32.0 L24.5,42.0 L26.5,52.0 L29.0,58.0 L75.0,61.0 L75.0,97.0 L75.0,-5.0Z" fill="url(#e23)"/>
<ellipse cx="51" cy="33" rx="7" ry="12" fill="#ff0300"/>
<ellipse cx="41" cy="33" rx="3.5" ry="14" fill="#985018"/>
<ellipse cx="36" cy="15" rx="6" ry="3" fill="#72e82f"/>
<ellipse cx="19" cy="56" rx="5" ry="7" fill="#00e9bb"/>
<path d="M54.0,29.0 L63.0,33.0 L54.0,38.0Z" fill="#906020"/>
</g>
<path d="M-5.0,-5.0 L24.5,-5.0 L24.5,8.0 L23.5,20.0 L21.5,32.0 L21.5,42.0 L23.5,52.0 L26.0,58.0 L72.0,61.0 L-5.0,97.0Z" fill="#000" filter="url(#speck)" opacity="0.85"/>
<path d="M27.5,-5.0 L27.5,8.0 L26.5,20.0 L24.5,32.0 L24.5,42.0 L26.5,52.0 L29.0,58.0 L75.0,61.0 L75.0,97.0 L75.0,-5.0Z" fill="#000" filter="url(#speck2)" opacity="0.3"/>
</g>
<circle cx="3" cy="45.7" r="1.2" fill="#f8e400"/>
<circle cx="3.2" cy="37.5" r="0.5" fill="#f8e400"/>
<circle cx="39.5" cy="91.4" r="1.8" fill="#c2b73a"/>
<text class="t" x="69.0" y="-2.3" font-size="5.1" font-weight="bold" text-anchor="end" fill="#111" stroke="#111" stroke-width="0.08">2018-10-07</text>
</g>
<g transform="translate(243.01,395)">
<rect width="67" height="92" fill="#808080"/>
<rect x="28.99" y="5" width="16.00" height="8" fill="#6e968e"/>
<rect x="12.99" y="13" width="16.00" height="8" fill="#6e968e"/>
<rect x="28.99" y="13" width="16.00" height="8" fill="#78a878"/>
<rect x="44.99" y="13" width="16.00" height="8" fill="#a87a8c"/>
<rect x="12.99" y="21" width="16.00" height="8" fill="#4ea49a"/>
<rect x="28.99" y="21" width="16.00" height="8" fill="#a8a060"/>
<rect x="44.99" y="21" width="16.00" height="8" fill="#d06088"/>
<rect x="12.99" y="29" width="16.00" height="8" fill="#6e968e"/>
<rect x="28.99" y="29" width="16.00" height="8" fill="#b88060"/>
<rect x="44.99" y="29" width="16.00" height="8" fill="#d06088"/>
<rect x="12.99" y="37" width="16.00" height="8" fill="#78a878"/>
<rect x="28.99" y="37" width="16.00" height="8" fill="#b88060"/>
<rect x="44.99" y="37" width="16.00" height="8" fill="#d06088"/>
<rect x="12.99" y="45" width="16.00" height="8" fill="#78a878"/>
<rect x="28.99" y="45" width="16.00" height="8" fill="#a8a060"/>
<rect x="12.99" y="53" width="16.00" height="8" fill="#78a878"/>
<rect x="28.99" y="53" width="16.00" height="8" fill="#a8a060"/>
<rect x="12.99" y="61" width="16.00" height="8" fill="#6e968e"/>
<rect x="28.99" y="61" width="16.00" height="8" fill="#6e968e"/>
<rect x="12.99" y="69" width="16.00" height="8" fill="#6e968e"/>
<g clip-path="url(#ic2)"><g filter="url(#b1_0)">
<rect x="-5" y="-5" width="77" height="102" fill="#98d450"/>
<ellipse cx="12" cy="43" rx="9" ry="11" fill="#a0c860"/>
<path d="M30.5,-5.0 L30.5,8.0 L29.5,20.0 L27.5,32.0 L27.5,42.0 L29.5,52.0 L32.0,58.0 L75.0,61.0" fill="none" stroke="#d9f004" stroke-width="6.0" stroke-linejoin="round"/>
<path d="M30.5,-5.0 L30.5,8.0 L29.5,20.0 L27.5,32.0 L27.5,42.0 L29.5,52.0 L32.0,58.0 L75.0,61.0 L75.0,97.0 L75.0,-5.0Z" fill="url(#e24)"/>
<ellipse cx="51" cy="33" rx="6" ry="6" fill="#ff8000"/>
<ellipse cx="38" cy="15" rx="4" ry="3" fill="#97ef23"/>
<ellipse cx="19" cy="52" rx="4" ry="6" fill="#14e58c"/>
</g>
<path d="M-5.0,-5.0 L27.5,-5.0 L27.5,8.0 L26.5,20.0 L24.5,32.0 L24.5,42.0 L26.5,52.0 L29.0,58.0 L72.0,61.0 L-5.0,97.0Z" fill="#000" filter="url(#speck)" opacity="0.85"/>
<path d="M30.5,-5.0 L30.5,8.0 L29.5,20.0 L27.5,32.0 L27.5,42.0 L29.5,52.0 L32.0,58.0 L75.0,61.0 L75.0,97.0 L75.0,-5.0Z" fill="#000" filter="url(#speck2)" opacity="0.3"/>
</g>
<circle cx="3" cy="45.7" r="1.2" fill="#f8e400"/>
<circle cx="3.2" cy="37.5" r="0.5" fill="#f8e400"/>
<circle cx="39.5" cy="91.4" r="1.8" fill="#c2b73a"/>
<text class="t" x="69.0" y="-2.3" font-size="5.1" font-weight="bold" text-anchor="end" fill="#111" stroke="#111" stroke-width="0.08">2018-10-13</text>
</g>
</svg></div></body></html>
